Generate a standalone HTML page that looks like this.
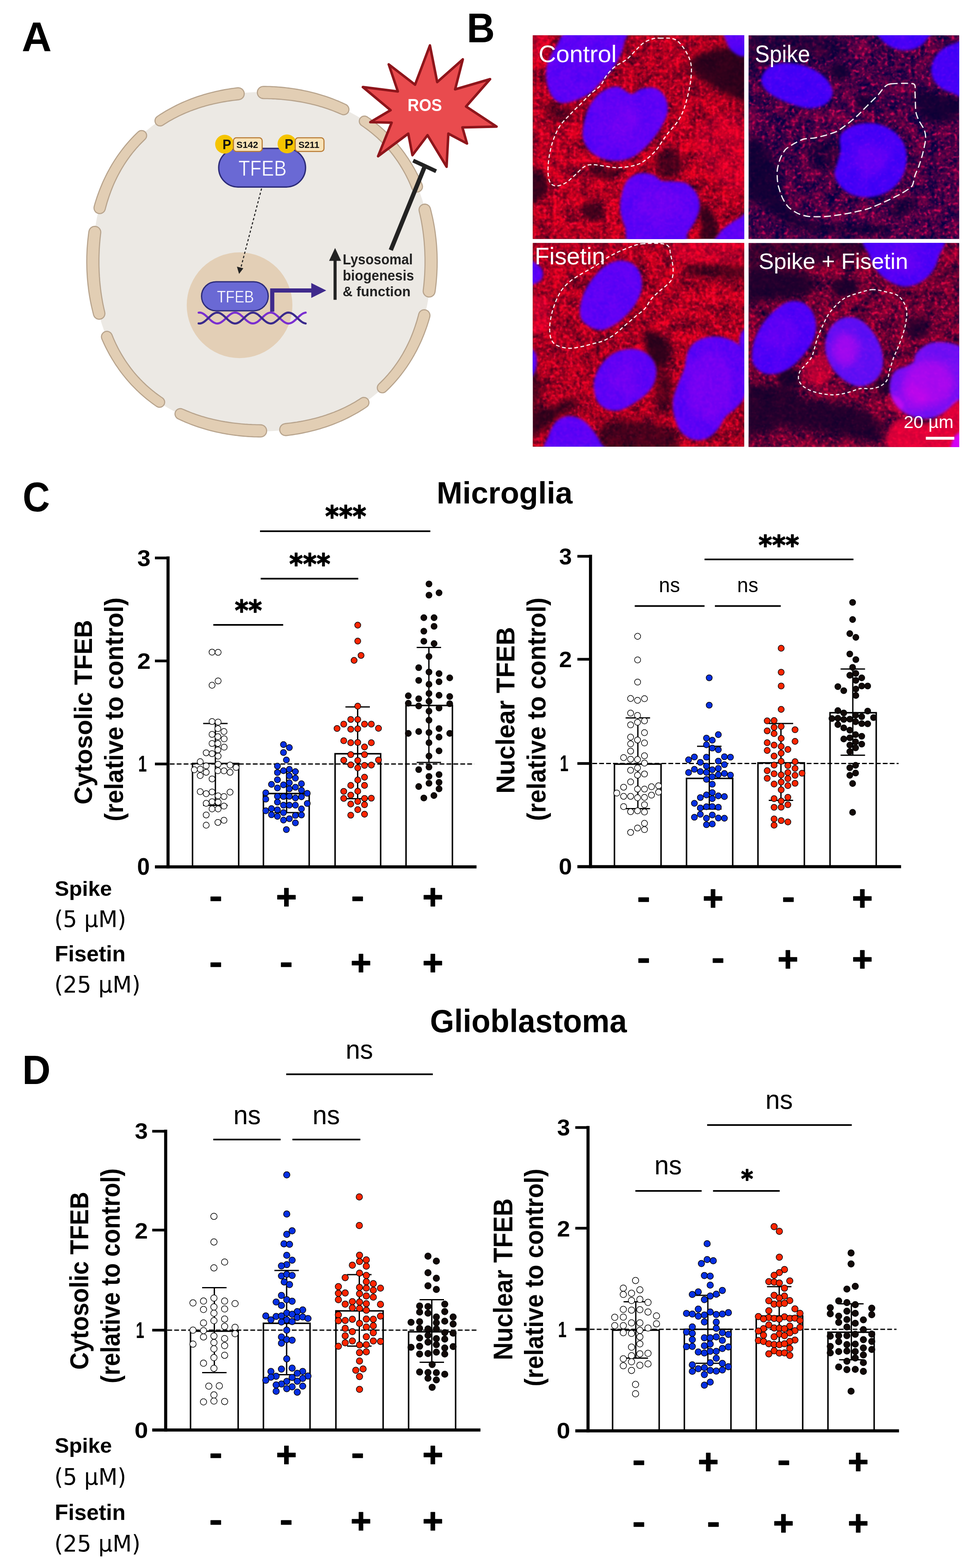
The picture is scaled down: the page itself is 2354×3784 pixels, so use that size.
<!DOCTYPE html>
<html lang="en"><head><meta charset="utf-8"><title>TFEB figure</title>
<style>
html,body{margin:0;padding:0;background:#fff;}
body{width:2354px;height:3784px;overflow:hidden;font-family:"Liberation Sans",sans-serif;}
svg{display:block;}

</style></head><body>
<svg width="2354" height="3784" viewBox="0 0 2354 3784">
<rect width="2354" height="3784" fill="#fff"/>
<g id="panelA">
<path d="M632.5,222.2L611.1,222.6L589.7,223.9L568.3,226.1L547.0,229.1L525.8,233.1L504.7,238.1L483.8,244.2L463.2,251.3L443.0,259.5L423.2,268.9L403.9,279.5L385.3,291.2L367.4,304.1L350.4,318.1L334.2,333.2L319.1,349.4L305.1,366.4L292.2,384.3L280.5,402.9L269.9,422.2L260.5,442.0L252.3,462.2L245.2,482.8L239.1,503.7L234.1,524.8L230.1,546.0L227.1,567.3L224.9,588.7L223.6,610.1L223.2,631.5L223.6,652.9L224.9,674.3L227.1,695.7L230.1,717.0L234.1,738.2L239.1,759.3L245.2,780.2L252.3,800.8L260.5,821.0L269.9,840.8L280.5,860.1L292.2,878.7L305.1,896.6L319.1,913.6L334.2,929.8L350.4,944.9L367.4,958.9L385.3,971.8L403.9,983.5L423.2,994.1L443.0,1003.5L463.2,1011.7L483.8,1018.8L504.7,1024.9L525.8,1029.9L547.0,1033.9L568.3,1036.9L589.7,1039.1L611.1,1040.4L632.5,1040.8L653.9,1040.4L675.3,1039.1L696.7,1036.9L718.0,1033.9L739.2,1029.9L760.3,1024.9L781.2,1018.8L801.8,1011.7L822.0,1003.5L841.8,994.1L861.1,983.5L879.7,971.8L897.6,958.9L914.6,944.9L930.8,929.8L945.9,913.6L959.9,896.6L972.8,878.7L984.5,860.1L995.1,840.8L1004.5,821.0L1012.7,800.8L1019.8,780.2L1025.9,759.3L1030.9,738.2L1034.9,717.0L1037.9,695.7L1040.1,674.3L1041.4,652.9L1041.8,631.5L1041.4,610.1L1040.1,588.7L1037.9,567.3L1034.9,546.0L1030.9,524.8L1025.9,503.7L1019.8,482.8L1012.7,462.2L1004.5,442.0L995.1,422.2L984.5,402.9L972.8,384.3L959.9,366.4L945.9,349.4L930.8,333.2L914.6,318.1L897.6,304.1L879.7,291.2L861.1,279.5L841.8,268.9L822.0,259.5L801.8,251.3L781.2,244.2L760.3,238.1L739.2,233.1L718.0,229.1L696.7,226.1L675.3,223.9L653.9,222.6Z" fill="#ece9e4"/>
<circle cx="578.4" cy="736.6" r="127.6" fill="#e3cfb6"/>
<path d="M573.2,211.9L568.1,212.5L563.0,213.2L557.9,213.9L552.8,214.7L547.7,215.5L542.6,216.4L537.5,217.4L532.4,218.4L527.4,219.4L522.3,220.5L517.3,221.7L512.3,222.9L507.2,224.2L502.2,225.5L497.2,226.9L492.3,228.3L487.3,229.9L482.3,231.4L477.4,233.1L472.5,234.7L467.6,236.5L462.7,238.3L457.8,240.2L453.0,242.1L448.2,244.1L443.4,246.1L438.6,248.3L433.9,250.4L429.2,252.7L424.5,255.0L419.8,257.4L415.2,259.8L410.6,262.3L406.0,264.8L401.4,267.4L396.9,270.1L392.5,272.9L388.0,275.7L383.6,278.5L379.3,281.5L376.9,283.7L375.2,286.5L374.3,289.6L374.2,292.8L375.0,296.0L376.5,298.8L378.7,301.2L381.5,302.9L384.6,303.8L387.9,303.9L391.0,303.2L393.9,301.6L398.0,298.9L402.2,296.3L406.4,293.7L410.7,291.2L415.0,288.8L419.3,286.4L423.7,284.1L428.1,281.9L432.5,279.7L436.9,277.6L441.4,275.5L445.9,273.5L450.4,271.6L455.0,269.7L459.5,267.9L464.1,266.2L468.7,264.5L473.3,262.9L477.9,261.3L482.6,259.8L487.2,258.3L491.9,256.9L496.6,255.6L501.3,254.3L506.0,253.1L510.7,251.9L515.4,250.8L520.1,249.7L524.9,248.7L529.6,247.7L534.4,246.8L539.1,245.9L543.9,245.1L548.6,244.3L553.4,243.6L558.2,242.9L562.9,242.3L567.7,241.7L572.5,241.1L577.2,240.6L580.9,239.6L584.2,237.7L586.8,235.0L588.7,231.7L589.6,228.0L589.6,224.2L588.6,220.6L586.6,217.3L583.9,214.7L580.6,212.8L577.0,211.9Z M333.5,318.4L329.7,322.0L325.9,325.7L322.2,329.5L318.5,333.3L315.0,337.2L311.4,341.1L307.9,345.1L304.5,349.2L301.1,353.2L297.8,357.4L294.6,361.5L291.4,365.7L288.3,370.0L285.2,374.3L282.2,378.6L279.3,383.0L276.4,387.4L273.6,391.9L270.8,396.4L268.2,400.9L265.5,405.5L263.0,410.1L260.5,414.7L258.0,419.4L255.7,424.1L253.4,428.8L251.1,433.6L248.9,438.3L246.8,443.1L244.8,448.0L242.8,452.8L240.8,457.7L239.0,462.6L237.2,467.5L235.4,472.4L233.7,477.4L232.1,482.3L230.5,487.3L229.0,492.3L227.6,497.3L226.9,500.9L227.2,504.5L228.4,507.9L230.4,510.9L233.1,513.2L236.3,514.8L239.9,515.5L243.5,515.2L246.9,514.0L249.9,512.0L252.2,509.3L253.8,506.0L255.0,501.3L256.3,496.6L257.6,491.9L259.0,487.2L260.5,482.5L262.0,477.8L263.6,473.1L265.2,468.5L266.9,463.9L268.6,459.3L270.4,454.7L272.3,450.1L274.2,445.6L276.2,441.0L278.3,436.5L280.4,432.1L282.6,427.6L284.9,423.2L287.2,418.8L289.6,414.5L292.0,410.1L294.5,405.9L297.1,401.6L299.7,397.4L302.4,393.2L305.2,389.1L308.0,385.0L310.9,380.9L313.8,376.9L316.9,372.9L319.9,369.0L323.1,365.1L326.3,361.3L329.5,357.5L332.9,353.8L336.2,350.2L339.7,346.5L343.2,343.0L346.7,339.5L350.3,336.0L352.3,333.5L353.6,330.6L354.1,327.5L353.8,324.3L352.6,321.3L350.7,318.8L348.3,316.8L345.3,315.5L342.2,315.0L339.0,315.3L336.0,316.5Z M214.7,558.1L214.0,563.2L213.4,568.2L212.8,573.3L212.2,578.4L211.7,583.5L211.3,588.5L210.9,593.6L210.5,598.7L210.2,603.8L210.0,608.9L209.8,614.0L209.6,619.1L209.6,624.2L209.5,629.3L209.5,634.4L209.6,639.5L209.7,644.6L209.8,649.7L210.0,654.8L210.3,659.9L210.6,665.0L210.9,670.0L211.3,675.1L211.8,680.2L212.3,685.3L212.9,690.4L213.5,695.5L214.1,700.5L214.8,705.6L215.6,710.6L216.4,715.7L217.3,720.7L218.2,725.8L219.2,730.8L220.2,735.8L221.3,740.8L222.5,745.8L223.7,750.8L224.9,755.8L226.2,760.8L227.8,764.1L230.1,766.8L233.1,768.9L236.5,770.1L240.1,770.4L243.7,769.8L246.9,768.3L249.7,765.9L251.8,763.0L253.0,759.6L253.3,755.9L252.7,752.4L251.6,747.7L250.5,743.0L249.5,738.3L248.5,733.6L247.6,728.9L246.8,724.2L246.0,719.5L245.2,714.7L244.5,710.0L243.8,705.3L243.2,700.6L242.6,695.8L242.1,691.1L241.6,686.3L241.1,681.6L240.7,676.9L240.4,672.1L240.0,667.4L239.8,662.6L239.5,657.9L239.3,653.2L239.2,648.4L239.0,643.7L238.9,638.9L238.9,634.2L238.9,629.4L238.9,624.7L239.0,620.0L239.1,615.2L239.3,610.5L239.5,605.7L239.7,601.0L240.0,596.2L240.3,591.5L240.7,586.8L241.1,582.0L241.5,577.3L242.0,572.5L242.5,567.8L243.1,563.1L243.3,559.3L242.5,555.6L240.7,552.3L238.2,549.5L235.0,547.5L231.4,546.4L227.7,546.2L224.0,547.0L220.7,548.8L217.9,551.3L215.9,554.5Z M246.2,818.5L248.3,823.3L250.5,828.1L252.7,832.9L255.0,837.6L257.4,842.3L259.8,847.0L262.3,851.7L264.8,856.3L267.5,860.9L270.1,865.4L272.9,869.9L275.7,874.4L278.5,878.9L281.5,883.3L284.5,887.6L287.5,891.9L290.6,896.2L293.8,900.5L297.1,904.7L300.4,908.8L303.7,912.9L307.1,916.9L310.6,920.9L314.1,924.9L317.7,928.8L321.4,932.6L325.1,936.4L328.8,940.2L332.7,943.9L336.5,947.5L340.4,951.1L344.4,954.6L348.4,958.0L352.5,961.4L356.6,964.8L360.8,968.0L365.0,971.3L369.2,974.4L373.5,977.5L377.8,980.5L380.7,982.1L383.8,982.9L387.1,982.8L390.2,981.9L393.0,980.2L395.2,977.8L396.8,975.0L397.5,971.8L397.5,968.6L396.5,965.5L394.8,962.7L392.5,960.5L388.4,957.7L384.3,954.8L380.2,951.9L376.2,948.9L372.3,945.8L368.4,942.7L364.5,939.5L360.7,936.3L356.9,933.0L353.2,929.7L349.6,926.2L346.0,922.8L342.4,919.2L338.9,915.7L335.5,912.0L332.1,908.3L328.8,904.6L325.5,900.8L322.3,897.0L319.2,893.1L316.1,889.1L313.1,885.1L310.2,881.1L307.3,877.0L304.5,872.9L301.7,868.7L299.0,864.5L296.4,860.3L293.8,856.0L291.3,851.7L288.9,847.4L286.5,843.0L284.2,838.6L282.0,834.2L279.8,829.7L277.7,825.2L275.7,820.7L273.7,816.2L271.8,811.6L269.9,807.0L268.0,804.1L265.5,801.9L262.4,800.3L259.0,799.6L255.6,799.8L252.3,800.9L249.5,802.8L247.2,805.3L245.6,808.4L244.9,811.8L245.1,815.2Z M429.3,1010.4L434.0,1012.6L438.8,1014.8L443.5,1016.9L448.3,1019.0L453.1,1020.9L457.9,1022.9L462.8,1024.7L467.6,1026.5L472.5,1028.3L477.4,1029.9L482.3,1031.6L487.3,1033.1L492.2,1034.6L497.2,1036.1L502.1,1037.5L507.1,1038.8L512.1,1040.1L517.1,1041.3L522.1,1042.4L527.2,1043.6L532.2,1044.6L537.3,1045.6L542.3,1046.5L547.4,1047.4L552.4,1048.3L557.5,1049.0L562.6,1049.8L567.7,1050.4L572.8,1051.0L577.9,1051.6L583.0,1052.1L588.1,1052.6L593.2,1053.0L598.3,1053.4L603.4,1053.7L608.5,1053.9L613.6,1054.2L618.7,1054.3L623.8,1054.4L629.0,1054.5L632.8,1054.0L636.3,1052.6L639.4,1050.3L641.8,1047.2L643.3,1043.7L643.8,1039.9L643.3,1036.1L641.9,1032.5L639.6,1029.5L636.5,1027.1L633.0,1025.6L629.2,1025.1L624.4,1025.0L619.7,1025.0L614.9,1024.8L610.2,1024.7L605.4,1024.4L600.6,1024.2L595.9,1023.9L591.1,1023.6L586.4,1023.2L581.6,1022.8L576.9,1022.3L572.1,1021.8L567.4,1021.3L562.6,1020.7L557.9,1020.1L553.1,1019.4L548.4,1018.6L543.6,1017.9L538.9,1017.1L534.2,1016.2L529.4,1015.3L524.7,1014.3L520.0,1013.3L515.3,1012.2L510.6,1011.1L505.9,1009.9L501.2,1008.7L496.6,1007.4L491.9,1006.1L487.2,1004.7L482.6,1003.2L478.0,1001.7L473.4,1000.2L468.8,998.5L464.2,996.9L459.6,995.1L455.1,993.3L450.6,991.5L446.1,989.5L441.6,987.6L438.4,986.4L435.1,986.0L431.7,986.6L428.6,988.0L426.0,990.1L424.0,992.9L422.8,996.0L422.5,999.4L423.1,1002.7L424.5,1005.8L426.6,1008.4Z M691.8,1051.1L696.9,1050.5L702.0,1049.8L707.1,1049.1L712.2,1048.3L717.3,1047.5L722.4,1046.6L727.5,1045.6L732.6,1044.6L737.6,1043.6L742.7,1042.5L747.7,1041.3L752.7,1040.1L757.8,1038.8L762.8,1037.5L767.8,1036.1L772.7,1034.7L777.7,1033.1L782.7,1031.6L787.6,1029.9L792.5,1028.3L797.4,1026.5L802.3,1024.7L807.2,1022.8L812.0,1020.9L816.8,1018.9L821.6,1016.9L826.4,1014.7L831.1,1012.6L835.8,1010.3L840.5,1008.0L845.2,1005.6L849.8,1003.2L854.4,1000.7L859.0,998.2L863.6,995.6L868.1,992.9L872.5,990.1L877.0,987.3L881.4,984.5L885.7,981.5L888.1,979.3L889.8,976.5L890.7,973.4L890.8,970.2L890.0,967.0L888.5,964.2L886.3,961.8L883.5,960.1L880.4,959.2L877.1,959.1L874.0,959.8L871.1,961.4L867.0,964.1L862.8,966.7L858.6,969.3L854.3,971.8L850.0,974.2L845.7,976.6L841.3,978.9L836.9,981.1L832.5,983.3L828.1,985.4L823.6,987.5L819.1,989.5L814.6,991.4L810.0,993.3L805.5,995.1L800.9,996.8L796.3,998.5L791.7,1000.1L787.1,1001.7L782.4,1003.2L777.8,1004.7L773.1,1006.1L768.4,1007.4L763.7,1008.7L759.0,1009.9L754.3,1011.1L749.6,1012.2L744.9,1013.3L740.1,1014.3L735.4,1015.3L730.6,1016.2L725.9,1017.1L721.1,1017.9L716.4,1018.7L711.6,1019.4L706.8,1020.1L702.1,1020.7L697.3,1021.3L692.5,1021.9L687.8,1022.4L684.1,1023.4L680.8,1025.3L678.2,1028.0L676.3,1031.3L675.4,1035.0L675.4,1038.8L676.4,1042.4L678.4,1045.7L681.1,1048.3L684.4,1050.2L688.0,1051.1Z M931.5,944.6L935.3,941.0L939.1,937.3L942.8,933.5L946.5,929.7L950.0,925.8L953.6,921.9L957.1,917.9L960.5,913.8L963.9,909.8L967.2,905.6L970.4,901.5L973.6,897.3L976.7,893.0L979.8,888.7L982.8,884.4L985.7,880.0L988.6,875.6L991.4,871.1L994.2,866.6L996.8,862.1L999.5,857.5L1002.0,852.9L1004.5,848.3L1007.0,843.6L1009.3,838.9L1011.6,834.2L1013.9,829.4L1016.1,824.7L1018.2,819.9L1020.2,815.0L1022.2,810.2L1024.2,805.3L1026.0,800.4L1027.8,795.5L1029.6,790.6L1031.3,785.6L1032.9,780.7L1034.5,775.7L1036.0,770.7L1037.4,765.7L1038.1,762.1L1037.8,758.5L1036.6,755.1L1034.6,752.1L1031.9,749.8L1028.7,748.2L1025.1,747.5L1021.5,747.8L1018.1,749.0L1015.1,751.0L1012.8,753.7L1011.2,757.0L1010.0,761.7L1008.7,766.4L1007.4,771.1L1006.0,775.8L1004.5,780.5L1003.0,785.2L1001.4,789.9L999.8,794.5L998.1,799.1L996.4,803.7L994.6,808.3L992.7,812.9L990.8,817.4L988.8,822.0L986.7,826.5L984.6,830.9L982.4,835.4L980.1,839.8L977.8,844.2L975.4,848.5L973.0,852.9L970.5,857.1L967.9,861.4L965.3,865.6L962.6,869.8L959.8,873.9L957.0,878.0L954.1,882.1L951.2,886.1L948.1,890.1L945.1,894.0L941.9,897.9L938.7,901.7L935.5,905.5L932.1,909.2L928.8,912.8L925.3,916.5L921.8,920.0L918.3,923.5L914.7,927.0L912.7,929.5L911.4,932.4L910.9,935.5L911.2,938.7L912.4,941.7L914.3,944.2L916.7,946.2L919.7,947.5L922.8,948.0L926.0,947.7L929.0,946.5Z M1050.3,704.9L1051.0,699.8L1051.6,694.8L1052.2,689.7L1052.8,684.6L1053.3,679.5L1053.7,674.5L1054.1,669.4L1054.5,664.3L1054.8,659.2L1055.0,654.1L1055.2,649.0L1055.4,643.9L1055.4,638.8L1055.5,633.7L1055.5,628.6L1055.4,623.5L1055.3,618.4L1055.2,613.3L1055.0,608.2L1054.7,603.1L1054.4,598.0L1054.1,593.0L1053.7,587.9L1053.2,582.8L1052.7,577.7L1052.1,572.6L1051.5,567.5L1050.9,562.5L1050.2,557.4L1049.4,552.4L1048.6,547.3L1047.7,542.3L1046.8,537.2L1045.8,532.2L1044.8,527.2L1043.7,522.2L1042.5,517.2L1041.3,512.2L1040.1,507.2L1038.8,502.2L1037.2,498.9L1034.9,496.2L1031.9,494.1L1028.5,492.9L1024.9,492.6L1021.3,493.2L1018.1,494.7L1015.3,497.1L1013.2,500.0L1012.0,503.4L1011.7,507.1L1012.3,510.6L1013.4,515.3L1014.5,520.0L1015.5,524.7L1016.5,529.4L1017.4,534.1L1018.2,538.8L1019.0,543.5L1019.8,548.3L1020.5,553.0L1021.2,557.7L1021.8,562.4L1022.4,567.2L1022.9,571.9L1023.4,576.7L1023.9,581.4L1024.3,586.1L1024.6,590.9L1025.0,595.6L1025.2,600.4L1025.5,605.1L1025.7,609.8L1025.8,614.6L1026.0,619.3L1026.1,624.1L1026.1,628.8L1026.1,633.6L1026.1,638.3L1026.0,643.0L1025.9,647.8L1025.7,652.5L1025.5,657.3L1025.3,662.0L1025.0,666.8L1024.7,671.5L1024.3,676.2L1023.9,681.0L1023.5,685.7L1023.0,690.5L1022.5,695.2L1021.9,699.9L1021.7,703.7L1022.5,707.4L1024.3,710.7L1026.8,713.5L1030.0,715.5L1033.6,716.6L1037.3,716.8L1041.0,716.0L1044.3,714.2L1047.1,711.7L1049.1,708.5Z M1018.8,444.5L1016.7,439.7L1014.5,434.9L1012.3,430.1L1010.0,425.4L1007.6,420.7L1005.2,416.0L1002.7,411.3L1000.2,406.7L997.5,402.1L994.9,397.6L992.1,393.1L989.3,388.6L986.5,384.1L983.5,379.7L980.5,375.4L977.5,371.1L974.4,366.8L971.2,362.5L967.9,358.3L964.6,354.2L961.3,350.1L957.9,346.1L954.4,342.1L950.9,338.1L947.3,334.2L943.6,330.4L939.9,326.6L936.2,322.8L932.3,319.1L928.5,315.5L924.6,311.9L920.6,308.4L916.6,305.0L912.5,301.6L908.4,298.2L904.2,295.0L900.0,291.7L895.8,288.6L891.5,285.5L887.2,282.5L884.3,280.9L881.2,280.1L877.9,280.2L874.8,281.1L872.0,282.8L869.8,285.2L868.2,288.0L867.5,291.2L867.5,294.4L868.5,297.5L870.2,300.3L872.5,302.5L876.6,305.3L880.7,308.2L884.8,311.1L888.8,314.1L892.7,317.2L896.6,320.3L900.5,323.5L904.3,326.7L908.1,330.0L911.8,333.3L915.4,336.8L919.0,340.2L922.6,343.8L926.1,347.3L929.5,351.0L932.9,354.7L936.2,358.4L939.5,362.2L942.7,366.0L945.8,369.9L948.9,373.9L951.9,377.9L954.8,381.9L957.7,386.0L960.5,390.1L963.3,394.3L966.0,398.5L968.6,402.7L971.2,407.0L973.7,411.3L976.1,415.6L978.5,420.0L980.8,424.4L983.0,428.8L985.2,433.3L987.3,437.8L989.3,442.3L991.3,446.8L993.2,451.4L995.1,456.0L997.0,458.9L999.5,461.1L1002.6,462.7L1006.0,463.4L1009.4,463.2L1012.7,462.1L1015.5,460.2L1017.8,457.7L1019.4,454.6L1020.1,451.2L1019.9,447.8Z M835.7,252.6L831.0,250.4L826.2,248.2L821.5,246.1L816.7,244.0L811.9,242.1L807.1,240.1L802.2,238.3L797.4,236.5L792.5,234.7L787.6,233.1L782.7,231.4L777.7,229.9L772.8,228.4L767.8,226.9L762.9,225.5L757.9,224.2L752.9,222.9L747.9,221.7L742.9,220.6L737.8,219.4L732.8,218.4L727.7,217.4L722.7,216.5L717.6,215.6L712.6,214.7L707.5,214.0L702.4,213.2L697.3,212.6L692.2,212.0L687.1,211.4L682.0,210.9L676.9,210.4L671.8,210.0L666.7,209.6L661.6,209.3L656.5,209.1L651.4,208.8L646.3,208.7L641.2,208.6L636.0,208.5L632.2,209.0L628.7,210.4L625.6,212.7L623.2,215.8L621.7,219.3L621.2,223.1L621.7,226.9L623.1,230.5L625.4,233.5L628.5,235.9L632.0,237.4L635.8,237.9L640.6,238.0L645.3,238.0L650.1,238.2L654.8,238.3L659.6,238.6L664.4,238.8L669.1,239.1L673.9,239.4L678.6,239.8L683.4,240.2L688.1,240.7L692.9,241.2L697.6,241.7L702.4,242.3L707.1,242.9L711.9,243.6L716.6,244.4L721.4,245.1L726.1,245.9L730.8,246.8L735.6,247.7L740.3,248.7L745.0,249.7L749.7,250.8L754.4,251.9L759.1,253.1L763.8,254.3L768.4,255.6L773.1,256.9L777.8,258.3L782.4,259.8L787.0,261.3L791.6,262.8L796.2,264.5L800.8,266.1L805.4,267.9L809.9,269.7L814.4,271.5L818.9,273.5L823.4,275.4L826.6,276.6L829.9,277.0L833.3,276.4L836.4,275.0L839.0,272.9L841.0,270.1L842.2,267.0L842.5,263.6L841.9,260.3L840.5,257.2L838.4,254.6Z" fill="#e2ceb4" stroke="#b7a38c" stroke-width="2.6" stroke-linejoin="round"/>
<line x1="943.5" y1="603.5" x2="1026" y2="400.4" stroke="#222" stroke-width="10.5"/>
<line x1="997.5" y1="387.5" x2="1053" y2="413.3" stroke="#222" stroke-width="9.5"/>
<polygon points="1038.0,109.6 1055.6,198.1 1117.4,143.3 1098.8,215.7 1183.3,191.0 1125.2,257.1 1198.8,305.6 1116.4,307.4 1127.5,346.3 1082.5,322.5 1078.2,402.4 1032.2,326.2 995.8,374.5 985.7,322.5 912.8,377.0 945.5,296.1 894.0,294.8 943.0,265.9 876.1,210.1 960.6,220.7 938.5,155.3 1002.1,204.4" fill="#e94b4e" stroke="#8e151b" stroke-width="6" stroke-linejoin="round"/>
<text transform="translate(984.01,268.17) scale(0.8976,1)" font-family="'Liberation Sans', sans-serif" font-weight="bold" font-size="42.68" fill="#fff" xml:space="preserve" >ROS</text>
<rect x="528" y="358.2" width="209.7" height="93.1" rx="46.5" fill="#6a69d4" stroke="#2b2a78" stroke-width="3.2"/>
<text transform="translate(575.69,424.40) scale(0.8754,1)" font-family="'Liberation Sans', sans-serif" font-weight="normal" font-size="51.94" fill="#fff" xml:space="preserve" stroke="#6a69d4" stroke-width="0.7">TFEB</text>
<line x1="631.5" y1="455" x2="581" y2="648" stroke="#222" stroke-width="2.6" stroke-dasharray="5.5 5"/>
<polygon points="577.2,661 572,643.5 587.5,647.5" fill="#222"/>
<circle cx="542.3" cy="348" r="22.8" fill="#f5c400"/>
<rect x="563.6" y="332.5" width="69.4" height="33" rx="7" fill="#f8e3b8" stroke="#b87a32" stroke-width="2.6"/>
<circle cx="693" cy="347.3" r="22.8" fill="#f5c400"/>
<rect x="712.8000000000001" y="332.5" width="69.4" height="33" rx="7" fill="#f8e3b8" stroke="#b87a32" stroke-width="2.6"/>
<text transform="translate(537.16,359.70) scale(0.9209,1)" font-family="'Liberation Sans', sans-serif" font-weight="bold" font-size="34.10" fill="#111" xml:space="preserve" >P</text>
<text transform="translate(687.35,359.20) scale(0.9260,1)" font-family="'Liberation Sans', sans-serif" font-weight="bold" font-size="34.10" fill="#111" xml:space="preserve" >P</text>
<text transform="translate(570.83,356.68) scale(1.0208,1)" font-family="'Liberation Sans', sans-serif" font-weight="bold" font-size="21.97" fill="#111" xml:space="preserve" >S142</text>
<text transform="translate(720.54,356.68) scale(1.0084,1)" font-family="'Liberation Sans', sans-serif" font-weight="bold" font-size="21.97" fill="#111" xml:space="preserve" >S211</text>
<path d="M479.5,754.4 L482.7,754.3 L486.0,755.0 L489.2,756.3 L492.4,758.2 L495.7,760.7 L498.9,763.5 L502.1,766.6 L505.4,769.7 L508.6,772.7 L511.8,775.4 L515.0,777.6 L518.3,779.3 L521.5,780.4 L524.7,780.7 L528.0,780.3 L531.2,779.2 L534.4,777.4 L537.7,775.1 L540.9,772.4 L544.1,769.4 L547.4,766.2 L550.6,763.2 L553.8,760.4 L557.0,758.0 L560.3,756.1 L563.5,754.9 L566.7,754.3 L570.0,754.5 L573.2,755.4 L576.4,757.0 L579.7,759.1 L582.9,761.8 L586.1,764.7 L589.4,767.8 L592.6,770.9 L595.8,773.8 L599.1,776.3 L602.3,778.4 L605.5,779.8 L608.8,780.6 L612.0,780.6 L615.2,779.9 L618.4,778.6 L621.7,776.6 L624.9,774.1 L628.1,771.2 L631.4,768.2 L634.6,765.1 L637.8,762.1 L641.1,759.4 L644.3,757.2 L647.5,755.6 L650.8,754.6 L654.0,754.3 L657.2,754.8 L660.5,755.9 L663.7,757.8 L666.9,760.1 L670.1,762.9 L673.4,765.9 L676.6,769.0 L679.8,772.0 L683.1,774.8 L686.3,777.2 L689.5,779.0 L692.8,780.2 L696.0,780.7 L699.2,780.4 L702.5,779.5 L705.7,777.9 L708.9,775.7 L712.1,773.0 L715.4,770.1 L718.6,767.0 L721.8,763.9 L725.1,761.0 L728.3,758.5 L731.5,756.5 L734.8,755.1 L738.0,754.4" fill="none" stroke="#7a2fd0" stroke-width="5" stroke-linecap="round"/>
<path d="M479.5,780.6 L482.7,780.7 L486.0,780.0 L489.2,778.7 L492.4,776.8 L495.7,774.3 L498.9,771.5 L502.1,768.4 L505.4,765.3 L508.6,762.3 L511.8,759.6 L515.0,757.4 L518.3,755.7 L521.5,754.6 L524.7,754.3 L528.0,754.7 L531.2,755.8 L534.4,757.6 L537.7,759.9 L540.9,762.6 L544.1,765.6 L547.4,768.8 L550.6,771.8 L553.8,774.6 L557.0,777.0 L560.3,778.9 L563.5,780.1 L566.7,780.7 L570.0,780.5 L573.2,779.6 L576.4,778.0 L579.7,775.9 L582.9,773.2 L586.1,770.3 L589.4,767.2 L592.6,764.1 L595.8,761.2 L599.1,758.7 L602.3,756.6 L605.5,755.2 L608.8,754.4 L612.0,754.4 L615.2,755.1 L618.4,756.4 L621.7,758.4 L624.9,760.9 L628.1,763.8 L631.4,766.8 L634.6,769.9 L637.8,772.9 L641.1,775.6 L644.3,777.8 L647.5,779.4 L650.8,780.4 L654.0,780.7 L657.2,780.2 L660.5,779.1 L663.7,777.2 L666.9,774.9 L670.1,772.1 L673.4,769.1 L676.6,766.0 L679.8,763.0 L683.1,760.2 L686.3,757.8 L689.5,756.0 L692.8,754.8 L696.0,754.3 L699.2,754.6 L702.5,755.5 L705.7,757.1 L708.9,759.3 L712.1,762.0 L715.4,764.9 L718.6,768.0 L721.8,771.1 L725.1,774.0 L728.3,776.5 L731.5,778.5 L734.8,779.9 L738.0,780.6" fill="none" stroke="#3a2a8c" stroke-width="5" stroke-linecap="round"/>
<rect x="486.6" y="679.9" width="161" height="70" rx="35" fill="#6a69d4" stroke="#2b2a78" stroke-width="3"/>
<text transform="translate(523.70,730.20) scale(0.8547,1)" font-family="'Liberation Sans', sans-serif" font-weight="normal" font-size="41.01" fill="#fff" xml:space="preserve" stroke="#6a69d4" stroke-width="0.6">TFEB</text>
<path d="M657.3,752 V701 H754" fill="none" stroke="#3f2a8c" stroke-width="10"/>
<polygon points="751.5,683 787.7,701 751.5,719" fill="#3f2a8c"/>
<line x1="809" y1="723.5" x2="809" y2="628" stroke="#222" stroke-width="7.4"/>
<polygon points="809,598.5 823.5,629.5 794.5,629.5" fill="#222"/>
<text transform="translate(827.48,638.41) scale(0.9526,1)" font-family="'Liberation Sans', sans-serif" font-weight="bold" font-size="34.22" fill="#222" xml:space="preserve" >Lysosomal</text>
<text transform="translate(827.46,677.10) scale(0.9454,1)" font-family="'Liberation Sans', sans-serif" font-weight="bold" font-size="34.89" fill="#222" xml:space="preserve" >biogenesis</text>
<text transform="translate(827.37,715.46) scale(0.9719,1)" font-family="'Liberation Sans', sans-serif" font-weight="bold" font-size="34.15" fill="#222" xml:space="preserve" >&amp; function</text>
</g>
<defs>
<filter id="nblur" x="-20%" y="-20%" width="140%" height="140%"><feGaussianBlur stdDeviation="3.4"/></filter>
<filter id="bl3" x="-50%" y="-50%" width="200%" height="200%"><feGaussianBlur stdDeviation="3"/></filter>
<filter id="bl4" x="-50%" y="-50%" width="200%" height="200%"><feGaussianBlur stdDeviation="4"/></filter>
<filter id="bl5" x="-50%" y="-50%" width="200%" height="200%"><feGaussianBlur stdDeviation="5"/></filter>
<filter id="bl6" x="-50%" y="-50%" width="200%" height="200%"><feGaussianBlur stdDeviation="6"/></filter>
<filter id="bl8" x="-50%" y="-50%" width="200%" height="200%"><feGaussianBlur stdDeviation="8"/></filter>
<filter id="bl9" x="-50%" y="-50%" width="200%" height="200%"><feGaussianBlur stdDeviation="9"/></filter>
<filter id="bl10" x="-50%" y="-50%" width="200%" height="200%"><feGaussianBlur stdDeviation="10"/></filter>
<filter id="sp-p1" x="0" y="0" width="100%" height="100%" color-interpolation-filters="sRGB">
<feTurbulence type="fractalNoise" baseFrequency="0.125" numOctaves="2" seed="3" result="n"/>
<feColorMatrix in="n" type="matrix" values="5.0 0 0 0 -2.875  0 1 0 0 0  0 0 0 0 0  0 0 0 0 1" result="a"/>
<feTurbulence type="fractalNoise" baseFrequency="0.03" numOctaves="2" seed="10" result="m"/>
<feColorMatrix in="m" type="matrix" values="0 0 0 0 0  0 0 0 0 0  0 0 1 0 0  0 0 0 0 1" result="b"/>
<feComposite in="a" in2="b" operator="arithmetic" k1="0" k2="1" k3="1" k4="0" result="c"/>
<feColorMatrix in="c" type="matrix" values="0.5 0.9 0.8 0 -0.190  0.03 0 0 0 0  0.10 0.05 0 0 0.1  0 0 0 0 1" result="g"/>
<feGaussianBlur in="g" stdDeviation="1.1"/>
</filter>
<clipPath id="cl-p1"><rect x="1286.5" y="85.4" width="510.1" height="491.0"/></clipPath>
<mask id="mk-p1" maskUnits="userSpaceOnUse" x="1281.5" y="80.4" width="520.1" height="501.0"><rect x="1281.5" y="80.4" width="520.1" height="501.0" fill="#000"/><rect x="1281.5" y="80.4" width="520.1" height="501.0" fill="#fff" fill-opacity="0.96"/><path d="M1656.1,290.6C1680.0,267.3 1775.6,227.5 1799.5,261.2C1823.4,294.9 1814.2,457.3 1799.5,492.9C1784.8,528.4 1735.2,489.8 1711.3,474.5C1687.4,459.2 1665.3,431.6 1656.1,401.0C1646.9,370.3 1632.2,313.9 1656.1,290.6Z" fill="#fff" fill-opacity="0.35" filter="url(#bl9)"/><path d="M1284.7,474.5C1312.9,453.7 1418.3,446.9 1453.9,456.1C1489.4,465.3 1498.0,508.8 1498.0,529.7C1498.0,550.5 1489.4,572.6 1453.9,581.1C1418.3,589.7 1312.9,598.9 1284.7,581.1C1256.5,563.4 1256.5,495.3 1284.7,474.5Z" fill="#fff" fill-opacity="0.25" filter="url(#bl9)"/><path d="M1284.7,81.0C1292.1,69.4 1323.9,73.1 1328.8,81.0C1333.7,89.0 1321.5,117.2 1314.1,128.8C1306.8,140.5 1289.6,158.9 1284.7,150.9C1279.8,142.9 1277.4,92.7 1284.7,81.0Z" fill="#fff" fill-opacity="0.3" filter="url(#bl4)"/><path d="M1667.1,143.5C1673.9,135.0 1696.0,126.4 1711.3,121.5C1726.6,116.6 1743.1,114.7 1759.1,114.1C1775.0,113.5 1798.9,96.4 1806.9,117.8C1814.9,139.3 1813.0,223.2 1806.9,242.8C1800.8,262.4 1782.4,239.8 1770.1,235.5C1757.9,231.2 1745.6,223.8 1733.3,217.1C1721.1,210.3 1707.0,202.4 1696.6,195.0C1686.1,187.7 1675.7,181.5 1670.8,173.0C1665.9,164.4 1660.4,152.1 1667.1,143.5Z" fill="#000" fill-opacity="0.85" filter="url(#bl8)"/><path d="M1586.2,371.5C1593.0,364.2 1612.6,354.4 1623.0,356.8C1633.4,359.3 1646.3,375.2 1648.8,386.2C1651.2,397.3 1645.7,415.7 1637.7,423.0C1629.8,430.4 1610.1,434.1 1601.0,430.4C1591.8,426.7 1585.0,410.8 1582.6,401.0C1580.1,391.1 1579.5,378.9 1586.2,371.5Z" fill="#000" fill-opacity="0.64" filter="url(#bl8)"/><path d="M1277.4,412.0C1282.9,401.6 1303.1,412.6 1310.5,419.3C1317.8,426.1 1322.1,442.6 1321.5,452.4C1320.9,462.2 1314.1,473.3 1306.8,478.2C1299.4,483.1 1282.3,492.9 1277.4,481.9C1272.5,470.8 1271.8,422.4 1277.4,412.0Z" fill="#000" fill-opacity="0.81" filter="url(#bl6)"/><path d="M1409.7,492.9C1414.6,486.8 1434.9,486.1 1442.8,489.2C1450.8,492.3 1457.5,503.9 1457.5,511.3C1457.5,518.6 1450.2,530.9 1442.8,533.3C1435.5,535.8 1418.9,532.7 1413.4,526.0C1407.9,519.2 1404.8,499.0 1409.7,492.9Z" fill="#000" fill-opacity="0.72" filter="url(#bl6)"/><path d="M1681.9,492.9C1686.1,488.0 1710.0,502.1 1718.6,511.3C1727.2,520.5 1732.1,535.8 1733.3,548.0C1734.6,560.3 1733.3,578.7 1726.0,584.8C1718.6,590.9 1694.7,592.2 1689.2,584.8C1683.7,577.5 1694.1,556.0 1692.9,540.7C1691.7,525.4 1677.6,497.8 1681.9,492.9Z" fill="#000" fill-opacity="0.77" filter="url(#bl6)"/><path d="M1321.5,246.5C1329.4,244.1 1354.0,260.0 1365.6,261.2C1377.3,262.4 1388.9,251.4 1391.4,253.9C1393.8,256.3 1388.3,269.8 1380.3,275.9C1372.4,282.1 1354.0,290.6 1343.5,290.6C1333.1,290.6 1321.5,283.3 1317.8,275.9C1314.1,268.6 1313.5,249.0 1321.5,246.5Z" fill="#000" fill-opacity="0.55" filter="url(#bl8)"/><path d="M1424.4,393.6C1431.8,391.1 1462.4,405.2 1475.9,408.3C1489.4,411.4 1505.3,408.3 1505.3,412.0C1505.3,415.7 1488.2,428.5 1475.9,430.4C1463.7,432.2 1440.4,429.1 1431.8,423.0C1423.2,416.9 1417.1,396.1 1424.4,393.6Z" fill="#000" fill-opacity="0.59" filter="url(#bl6)"/><path d="M1380.3,70.0C1353.4,76.7 1353.4,96.4 1343.5,110.5C1333.7,124.5 1325.5,140.5 1321.5,154.6C1317.5,168.7 1317.8,182.2 1319.6,195.0C1321.5,207.9 1326.7,222.9 1332.5,231.8C1338.3,240.7 1345.4,246.5 1354.6,248.3C1363.8,250.2 1376.0,246.8 1387.7,242.8C1399.3,238.8 1413.4,232.4 1424.4,224.4C1435.5,216.5 1444.7,204.8 1453.9,195.0C1463.1,185.2 1472.3,176.0 1479.6,165.6C1487.0,155.2 1493.4,142.9 1498.0,132.5C1502.6,122.1 1506.0,113.5 1507.2,103.1C1508.4,92.7 1526.5,75.5 1505.3,70.0C1484.2,64.5 1407.3,63.3 1380.3,70.0Z" fill="#000" fill-opacity="0.80" filter="url(#nblur)"/><path d="M1409.7,298.0C1412.5,284.5 1417.1,266.7 1424.4,253.9C1431.8,241.0 1442.8,228.2 1453.9,220.8C1464.9,213.3 1479.0,208.1 1490.6,209.0C1502.3,209.9 1513.9,225.4 1523.7,226.3C1533.5,227.1 1539.7,216.4 1549.5,214.1C1559.3,211.9 1573.1,209.1 1582.6,212.7C1592.1,216.2 1601.6,226.2 1606.5,235.5C1611.4,244.8 1612.9,258.2 1612.0,268.6C1611.1,279.0 1605.9,288.2 1601.0,298.0C1596.1,307.8 1589.9,317.6 1582.6,327.4C1575.2,337.2 1566.0,348.2 1556.8,356.8C1547.6,365.4 1538.4,373.7 1527.4,378.9C1516.4,384.1 1502.9,387.5 1490.6,388.1C1478.4,388.7 1464.9,386.6 1453.9,382.6C1442.8,378.6 1432.1,372.1 1424.4,364.2C1416.8,356.2 1410.3,345.8 1407.9,334.8C1405.4,323.7 1407.0,311.5 1409.7,298.0Z" fill="#000" fill-opacity="0.80" filter="url(#nblur)"/><path d="M1499.8,474.5C1502.3,462.2 1505.7,447.0 1512.7,437.7C1519.7,428.4 1531.7,421.4 1542.1,418.6C1552.5,415.8 1566.0,418.3 1575.2,421.2C1584.4,424.1 1589.3,433.1 1597.3,435.9C1605.2,438.6 1613.2,436.7 1623.0,437.7C1632.8,438.8 1646.3,437.2 1656.1,442.1C1665.9,447.0 1676.3,457.5 1681.9,467.1C1687.4,476.8 1689.8,489.2 1689.2,500.2C1688.6,511.3 1683.1,522.9 1678.2,533.3C1673.3,543.8 1665.3,552.9 1659.8,562.8C1654.3,572.6 1667.1,587.3 1645.1,592.2C1623.0,597.1 1550.1,599.5 1527.4,592.2C1504.7,584.8 1513.9,561.5 1509.0,548.0C1504.1,534.6 1499.5,523.5 1498.0,511.3C1496.5,499.0 1497.4,486.8 1499.8,474.5Z" fill="#000" fill-opacity="0.80" filter="url(#nblur)"/><path d="M1751.7,70.0C1740.6,75.5 1751.6,93.9 1754.7,103.1C1757.7,112.3 1763.1,119.8 1770.1,125.2C1777.1,130.6 1788.0,138.5 1796.6,135.5C1805.2,132.4 1817.4,117.7 1821.6,106.8C1825.8,95.9 1833.2,76.1 1821.6,70.0C1809.9,63.9 1762.9,64.5 1751.7,70.0Z" fill="#000" fill-opacity="0.80" filter="url(#nblur)"/><path d="M1810.6,516.8C1804.4,505.8 1793.4,521.7 1784.8,526.0C1776.2,530.3 1767.0,536.4 1759.1,542.5C1751.1,548.7 1742.2,554.5 1737.0,562.8C1731.8,571.0 1713.7,587.3 1727.8,592.2C1741.9,597.1 1807.8,604.7 1821.6,592.2C1835.4,579.6 1816.7,527.8 1810.6,516.8Z" fill="#000" fill-opacity="0.80" filter="url(#nblur)"/></mask>
<filter id="sp-p2" x="0" y="0" width="100%" height="100%" color-interpolation-filters="sRGB">
<feTurbulence type="fractalNoise" baseFrequency="0.125" numOctaves="2" seed="11" result="n"/>
<feColorMatrix in="n" type="matrix" values="5.0 0 0 0 -2.925  0 1 0 0 0  0 0 0 0 0  0 0 0 0 1" result="a"/>
<feTurbulence type="fractalNoise" baseFrequency="0.03" numOctaves="2" seed="18" result="m"/>
<feColorMatrix in="m" type="matrix" values="0 0 0 0 0  0 0 0 0 0  0 0 1 0 0  0 0 0 0 1" result="b"/>
<feComposite in="a" in2="b" operator="arithmetic" k1="0" k2="1" k3="1" k4="0" result="c"/>
<feColorMatrix in="c" type="matrix" values="0.8 0.9 0.8 0 -0.550  0.03 0 0 0 0  0.10 0.05 0 0 0.26  0 0 0 0 1" result="g"/>
<feGaussianBlur in="g" stdDeviation="1.1"/>
</filter>
<clipPath id="cl-p2"><rect x="1807.5" y="85.4" width="508.1" height="491.0"/></clipPath>
<mask id="mk-p2" maskUnits="userSpaceOnUse" x="1802.5" y="80.4" width="518.1" height="501.0"><rect x="1802.5" y="80.4" width="518.1" height="501.0" fill="#000"/><rect x="1802.5" y="80.4" width="518.1" height="501.0" fill="#fff" fill-opacity="0.8"/><path d="M1955.5,246.5C1970.8,234.9 2028.4,230.6 2047.4,235.5C2066.4,240.4 2075.6,261.8 2069.5,275.9C2063.3,290.0 2029.6,315.2 2010.6,320.1C1991.6,325.0 1964.7,317.6 1955.5,305.3C1946.3,293.1 1940.2,258.2 1955.5,246.5Z" fill="#fff" fill-opacity="0.25" filter="url(#bl8)"/><path d="M2047.4,492.9C2098.9,469.0 2274.2,423.0 2319.5,437.7C2364.9,452.4 2371.0,557.2 2319.5,581.1C2268.0,605.0 2056.0,595.9 2010.6,581.1C1965.3,566.4 1995.9,516.8 2047.4,492.9Z" fill="#fff" fill-opacity="0.15" filter="url(#bl9)"/><path d="M1797.4,334.8C1805.3,313.9 1832.3,338.4 1845.2,349.5C1858.0,360.5 1867.8,383.2 1874.6,401.0C1881.3,418.7 1879.5,439.0 1885.6,456.1C1891.7,473.3 1899.7,491.0 1911.4,503.9C1923.0,516.8 1932.8,526.6 1955.5,533.3C1978.2,540.1 2016.8,542.5 2047.4,544.4C2078.1,546.2 2124.0,541.3 2139.3,544.4C2154.7,547.4 2154.7,559.7 2139.3,562.8C2124.0,565.8 2081.1,564.0 2047.4,562.8C2013.7,561.5 1964.7,560.9 1937.1,555.4C1909.5,549.9 1899.1,540.1 1881.9,529.7C1864.8,519.2 1848.2,502.1 1834.1,492.9C1820.0,483.7 1803.5,500.9 1797.4,474.5C1791.2,448.1 1789.4,355.6 1797.4,334.8Z" fill="#000" fill-opacity="0.85" filter="url(#bl10)"/><path d="M2212.9,217.1C2222.1,211.6 2250.3,223.8 2268.0,228.1C2285.8,232.4 2310.9,234.9 2319.5,242.8C2328.1,250.8 2326.3,266.7 2319.5,275.9C2312.8,285.1 2293.8,295.5 2279.1,298.0C2264.4,300.4 2242.3,296.8 2231.3,290.6C2220.2,284.5 2216.0,273.5 2212.9,261.2C2209.8,249.0 2203.7,222.6 2212.9,217.1Z" fill="#000" fill-opacity="0.85" filter="url(#bl8)"/><path d="M2007.0,158.3C2011.9,152.7 2032.7,150.9 2040.1,154.6C2047.4,158.3 2052.3,173.6 2051.1,180.3C2049.9,187.1 2039.4,193.8 2032.7,195.0C2026.0,196.3 2014.9,193.8 2010.6,187.7C2006.3,181.5 2002.1,163.8 2007.0,158.3Z" fill="#000" fill-opacity="0.85" filter="url(#bl6)"/><path d="M2069.5,235.5C2074.4,231.2 2092.8,228.7 2098.9,231.8C2105.0,234.9 2108.1,248.3 2106.2,253.9C2104.4,259.4 2094.0,264.3 2087.9,264.9C2081.7,265.5 2072.5,262.4 2069.5,257.5C2066.4,252.6 2064.6,239.8 2069.5,235.5Z" fill="#000" fill-opacity="0.81" filter="url(#bl6)"/><path d="M1797.4,81.0C1826.8,64.5 1932.2,75.5 1973.9,81.0C2015.5,86.5 2041.3,103.7 2047.4,114.1C2053.5,124.5 2035.2,139.9 2010.6,143.5C1986.1,147.2 1931.0,133.1 1900.3,136.2C1869.7,139.3 1843.9,154.6 1826.8,161.9C1809.6,169.3 1802.3,193.8 1797.4,180.3C1792.5,166.8 1767.9,97.6 1797.4,81.0Z" fill="#000" fill-opacity="0.55" filter="url(#bl10)"/><path d="M1955.5,349.5C1966.5,342.1 2007.6,333.5 2018.0,342.1C2028.4,350.7 2024.1,389.3 2018.0,401.0C2011.9,412.6 1992.3,414.4 1981.2,412.0C1970.2,409.5 1956.1,396.7 1951.8,386.2C1947.5,375.8 1944.4,356.8 1955.5,349.5Z" fill="#000" fill-opacity="0.55" filter="url(#bl9)"/><path d="M2157.7,492.9C2165.1,485.5 2185.3,473.9 2194.5,474.5C2203.7,475.1 2215.3,488.6 2212.9,496.6C2210.4,504.5 2190.2,518.6 2179.8,522.3C2169.4,526.0 2154.1,523.5 2150.4,518.6C2146.7,513.7 2150.4,500.2 2157.7,492.9Z" fill="#000" fill-opacity="0.68" filter="url(#bl8)"/><path d="M1837.8,195.0C1837.2,186.4 1842.7,176.0 1848.8,169.3C1855.0,162.5 1864.2,157.3 1874.6,154.6C1885.0,151.8 1898.5,151.5 1911.4,152.7C1924.2,154.0 1938.9,156.7 1951.8,161.9C1964.7,167.1 1979.1,175.4 1988.6,184.0C1998.1,192.6 2005.7,204.8 2008.8,213.4C2011.9,222.0 2010.3,228.7 2007.0,235.5C2003.6,242.2 1997.2,249.6 1988.6,253.9C1980.0,258.2 1967.1,261.2 1955.5,261.2C1943.8,261.2 1931.0,257.5 1918.7,253.9C1906.4,250.2 1893.0,244.7 1881.9,239.2C1870.9,233.6 1859.9,228.1 1852.5,220.8C1845.2,213.4 1838.4,203.6 1837.8,195.0Z" fill="#000" fill-opacity="0.80" filter="url(#nblur)"/><path d="M2029.0,327.4C2033.3,317.6 2044.3,310.4 2054.8,305.3C2065.2,300.3 2079.3,297.9 2091.5,297.3C2103.8,296.6 2116.7,297.9 2128.3,301.7C2140.0,305.5 2152.2,312.1 2161.4,320.1C2170.6,328.0 2178.9,338.4 2183.5,349.5C2188.1,360.5 2189.6,374.0 2189.0,386.2C2188.4,398.5 2185.0,412.0 2179.8,423.0C2174.6,434.1 2166.9,444.5 2157.7,452.4C2148.5,460.4 2136.3,466.8 2124.6,470.8C2113.0,474.8 2100.1,477.0 2087.9,476.3C2075.6,475.7 2061.5,472.4 2051.1,467.1C2040.7,461.9 2031.4,453.1 2025.3,445.1C2019.3,437.1 2015.7,427.9 2015.0,419.3C2014.4,410.8 2019.3,402.8 2021.7,393.6C2024.0,384.4 2027.8,375.2 2029.0,364.2C2030.2,353.2 2024.7,337.2 2029.0,327.4Z" fill="#000" fill-opacity="0.80" filter="url(#nblur)"/><path d="M2121.0,70.0C2102.3,74.9 2125.9,91.8 2132.0,99.4C2138.1,107.1 2148.5,112.3 2157.7,116.0C2166.9,119.6 2177.3,121.8 2187.1,121.5C2197.0,121.2 2208.3,118.4 2216.6,114.1C2224.8,109.8 2232.2,103.1 2236.8,95.7C2241.4,88.4 2263.5,74.3 2244.1,70.0C2224.8,65.7 2139.6,65.1 2121.0,70.0Z" fill="#000" fill-opacity="0.80" filter="url(#nblur)"/><path d="M2341.6,103.1C2335.5,82.6 2316.5,101.9 2304.8,104.9C2293.2,108.0 2280.6,113.8 2271.7,121.5C2262.8,129.1 2255.2,141.1 2251.5,150.9C2247.8,160.7 2247.5,171.1 2249.7,180.3C2251.8,189.5 2257.0,199.0 2264.4,206.1C2271.7,213.1 2280.9,218.9 2293.8,222.6C2306.7,226.3 2333.6,248.0 2341.6,228.1C2349.6,208.2 2347.7,123.6 2341.6,103.1Z" fill="#000" fill-opacity="0.80" filter="url(#nblur)"/></mask>
<filter id="sp-p3" x="0" y="0" width="100%" height="100%" color-interpolation-filters="sRGB">
<feTurbulence type="fractalNoise" baseFrequency="0.125" numOctaves="2" seed="23" result="n"/>
<feColorMatrix in="n" type="matrix" values="5.0 0 0 0 -2.875  0 1 0 0 0  0 0 0 0 0  0 0 0 0 1" result="a"/>
<feTurbulence type="fractalNoise" baseFrequency="0.03" numOctaves="2" seed="30" result="m"/>
<feColorMatrix in="m" type="matrix" values="0 0 0 0 0  0 0 0 0 0  0 0 1 0 0  0 0 0 0 1" result="b"/>
<feComposite in="a" in2="b" operator="arithmetic" k1="0" k2="1" k3="1" k4="0" result="c"/>
<feColorMatrix in="c" type="matrix" values="0.5 0.9 0.8 0 -0.190  0.03 0 0 0 0  0.10 0.05 0 0 0.1  0 0 0 0 1" result="g"/>
<feGaussianBlur in="g" stdDeviation="1.1"/>
</filter>
<clipPath id="cl-p3"><rect x="1286.5" y="586.6" width="510.1" height="491.4"/></clipPath>
<mask id="mk-p3" maskUnits="userSpaceOnUse" x="1281.5" y="581.6" width="520.1" height="501.4"><rect x="1281.5" y="581.6" width="520.1" height="501.4" fill="#000"/><rect x="1281.5" y="581.6" width="520.1" height="501.4" fill="#fff" fill-opacity="0.94"/><path d="M1277.4,711.7C1285.9,698.3 1320.9,705.6 1328.8,719.1C1336.8,732.6 1333.7,779.2 1325.2,792.6C1316.6,806.1 1285.3,813.5 1277.4,800.0C1269.4,786.5 1268.8,725.2 1277.4,711.7Z" fill="#fff" fill-opacity="0.35" filter="url(#bl5)"/><path d="M1623.0,586.7C1650.0,578.7 1770.1,578.7 1799.5,586.7C1828.9,594.7 1826.5,626.5 1799.5,634.5C1772.6,642.5 1667.1,642.5 1637.7,634.5C1608.3,626.5 1596.1,594.7 1623.0,586.7Z" fill="#fff" fill-opacity="0.3" filter="url(#bl6)"/><path d="M1637.7,682.3C1664.7,663.9 1772.6,663.9 1799.5,682.3C1826.5,700.7 1826.5,774.3 1799.5,792.6C1772.6,811.0 1664.7,811.0 1637.7,792.6C1610.8,774.3 1610.8,700.7 1637.7,682.3Z" fill="#fff" fill-opacity="0.2" filter="url(#bl9)"/><path d="M1277.4,583.0C1300.6,575.7 1399.9,572.6 1417.1,583.0C1434.3,593.5 1403.6,638.2 1380.3,645.5C1357.0,652.9 1294.5,637.6 1277.4,627.2C1260.2,616.7 1254.1,590.4 1277.4,583.0Z" fill="#fff" fill-opacity="0.2" filter="url(#bl6)"/><path d="M1556.8,800.0C1561.7,792.0 1583.2,801.2 1593.6,807.3C1604.0,813.5 1616.3,825.1 1619.3,836.8C1622.4,848.4 1617.5,869.2 1612.0,877.2C1606.5,885.2 1594.2,888.2 1586.2,884.6C1578.3,880.9 1569.1,869.2 1564.2,855.2C1559.3,841.1 1551.9,808.0 1556.8,800.0Z" fill="#000" fill-opacity="0.85" filter="url(#bl8)"/><path d="M1277.4,994.9C1285.3,982.0 1308.0,989.4 1325.2,983.9C1342.3,978.3 1368.7,963.6 1380.3,961.8C1392.0,960.0 1401.2,964.9 1395.0,972.8C1388.9,980.8 1359.5,997.3 1343.5,1009.6C1327.6,1021.9 1310.5,1037.8 1299.4,1046.4C1288.4,1054.9 1281.0,1069.7 1277.4,1061.1C1273.7,1052.5 1269.4,1007.8 1277.4,994.9Z" fill="#000" fill-opacity="0.81" filter="url(#bl8)"/><path d="M1656.1,641.9C1666.5,637.0 1705.8,637.6 1729.7,638.2C1753.6,638.8 1787.9,640.0 1799.5,645.5C1811.2,651.1 1811.2,667.0 1799.5,671.3C1787.9,675.6 1751.7,671.9 1729.7,671.3C1707.6,670.7 1679.4,672.5 1667.1,667.6C1654.9,662.7 1645.7,646.8 1656.1,641.9Z" fill="#000" fill-opacity="0.64" filter="url(#bl8)"/><path d="M1453.9,1024.3C1464.9,1012.0 1502.9,1012.7 1527.4,1013.3C1551.9,1013.9 1582.6,1020.0 1601.0,1028.0C1619.3,1036.0 1634.7,1051.3 1637.7,1061.1C1640.8,1070.9 1648.8,1082.5 1619.3,1086.8C1589.9,1091.1 1488.8,1097.2 1461.2,1086.8C1433.6,1076.4 1442.8,1036.6 1453.9,1024.3Z" fill="#000" fill-opacity="0.68" filter="url(#bl9)"/><path d="M1586.2,895.6C1592.4,883.3 1613.2,892.5 1619.3,903.0C1625.5,913.4 1626.1,941.0 1623.0,958.1C1620.0,975.3 1607.7,1002.9 1601.0,1005.9C1594.2,1009.0 1585.0,994.9 1582.6,976.5C1580.1,958.1 1580.1,907.9 1586.2,895.6Z" fill="#000" fill-opacity="0.59" filter="url(#bl8)"/><path d="M1277.4,888.2C1281.6,877.2 1298.2,898.7 1303.1,910.3C1308.0,922.0 1311.1,947.1 1306.8,958.1C1302.5,969.1 1282.3,988.1 1277.4,976.5C1272.5,964.9 1273.1,899.3 1277.4,888.2Z" fill="#000" fill-opacity="0.68" filter="url(#bl8)"/><path d="M1400.5,744.8C1401.5,734.4 1404.5,720.3 1409.7,708.1C1414.9,695.8 1423.2,682.3 1431.8,671.3C1440.4,660.3 1450.8,648.9 1461.2,641.9C1471.6,634.8 1483.3,629.9 1494.3,629.0C1505.3,628.1 1518.8,631.1 1527.4,636.4C1536.0,641.6 1542.1,650.8 1545.8,660.3C1549.5,669.8 1550.7,682.3 1549.5,693.4C1548.2,704.4 1544.0,716.0 1538.4,726.4C1532.9,736.9 1525.0,746.7 1516.4,755.9C1507.8,765.1 1497.4,774.9 1487.0,781.6C1476.5,788.3 1464.3,795.1 1453.9,796.3C1443.4,797.5 1432.7,793.2 1424.4,789.0C1416.2,784.7 1408.2,777.9 1404.2,770.6C1400.2,763.2 1399.6,755.3 1400.5,744.8Z" fill="#000" fill-opacity="0.80" filter="url(#nblur)"/><path d="M1433.6,925.0C1434.6,912.1 1440.1,899.3 1446.5,888.2C1452.9,877.2 1462.4,866.2 1472.3,858.8C1482.1,851.5 1493.7,846.6 1505.3,844.1C1517.0,841.7 1531.1,841.1 1542.1,844.1C1553.2,847.2 1564.5,854.5 1571.5,862.5C1578.6,870.5 1583.2,881.5 1584.4,891.9C1585.6,902.3 1582.9,915.2 1578.9,925.0C1574.9,934.8 1568.5,942.8 1560.5,950.8C1552.5,958.7 1541.5,966.4 1531.1,972.8C1520.7,979.3 1509.0,986.9 1498.0,989.4C1487.0,991.8 1474.4,991.5 1464.9,987.5C1455.4,983.5 1446.2,975.9 1441.0,965.5C1435.8,955.1 1432.7,937.9 1433.6,925.0Z" fill="#000" fill-opacity="0.80" filter="url(#nblur)"/><path d="M1659.8,851.5C1664.1,841.1 1669.6,832.2 1678.2,825.7C1686.8,819.3 1699.6,814.7 1711.3,812.9C1722.9,811.0 1736.4,811.9 1748.0,814.7C1759.7,817.5 1772.6,823.3 1781.1,829.4C1789.7,835.5 1795.2,839.2 1799.5,851.5C1803.8,863.7 1806.9,885.8 1806.9,903.0C1806.9,920.1 1804.4,941.0 1799.5,954.4C1794.6,967.9 1785.4,975.3 1777.5,983.9C1769.5,992.4 1759.1,997.3 1751.7,1005.9C1744.4,1014.5 1740.7,1026.8 1733.3,1035.3C1726.0,1043.9 1717.4,1053.1 1707.6,1057.4C1697.8,1061.7 1684.9,1063.5 1674.5,1061.1C1664.1,1058.6 1652.7,1051.9 1645.1,1042.7C1637.4,1033.5 1631.9,1018.8 1628.5,1005.9C1625.2,993.0 1623.3,979.0 1624.9,965.5C1626.4,952.0 1633.1,937.9 1637.7,925.0C1642.3,912.1 1648.8,900.5 1652.4,888.2C1656.1,876.0 1655.5,861.9 1659.8,851.5Z" fill="#000" fill-opacity="0.80" filter="url(#nblur)"/><path d="M1321.5,1094.2C1299.4,1086.8 1321.5,1062.9 1325.2,1050.0C1328.8,1037.2 1335.6,1024.6 1343.5,1017.0C1351.5,1009.3 1362.5,1004.7 1373.0,1004.1C1383.4,1003.5 1396.3,1007.5 1406.1,1013.3C1415.9,1019.1 1424.4,1029.8 1431.8,1039.0C1439.2,1048.2 1445.9,1059.2 1450.2,1068.4C1454.5,1077.6 1479.0,1089.9 1457.5,1094.2C1436.1,1098.5 1343.5,1101.5 1321.5,1094.2Z" fill="#000" fill-opacity="0.80" filter="url(#nblur)"/><path d="M1270.0,630.8C1274.3,622.6 1289.0,632.1 1295.7,636.4C1302.5,640.6 1309.2,649.5 1310.5,656.6C1311.7,663.6 1309.8,673.7 1303.1,678.6C1296.4,683.5 1275.5,694.0 1270.0,686.0C1264.5,678.0 1265.7,639.1 1270.0,630.8Z" fill="#000" fill-opacity="0.80" filter="url(#nblur)"/><path d="M1270.0,836.8C1273.7,827.0 1287.8,844.7 1292.1,851.5C1296.4,858.2 1296.4,868.6 1295.7,877.2C1295.1,885.8 1292.7,897.4 1288.4,903.0C1284.1,908.5 1273.1,921.3 1270.0,910.3C1266.9,899.3 1266.3,846.6 1270.0,836.8Z" fill="#000" fill-opacity="0.80" filter="url(#nblur)"/><path d="M1821.6,789.0C1816.7,778.5 1798.3,793.2 1792.2,800.0C1786.0,806.7 1784.2,820.2 1784.8,829.4C1785.4,838.6 1789.7,849.6 1795.9,855.2C1802.0,860.7 1817.3,873.5 1821.6,862.5C1825.9,851.5 1826.5,799.4 1821.6,789.0Z" fill="#000" fill-opacity="0.80" filter="url(#nblur)"/></mask>
<filter id="sp-p4" x="0" y="0" width="100%" height="100%" color-interpolation-filters="sRGB">
<feTurbulence type="fractalNoise" baseFrequency="0.125" numOctaves="2" seed="37" result="n"/>
<feColorMatrix in="n" type="matrix" values="5.0 0 0 0 -2.900  0 1 0 0 0  0 0 0 0 0  0 0 0 0 1" result="a"/>
<feTurbulence type="fractalNoise" baseFrequency="0.03" numOctaves="2" seed="44" result="m"/>
<feColorMatrix in="m" type="matrix" values="0 0 0 0 0  0 0 0 0 0  0 0 1 0 0  0 0 0 0 1" result="b"/>
<feComposite in="a" in2="b" operator="arithmetic" k1="0" k2="1" k3="1" k4="0" result="c"/>
<feColorMatrix in="c" type="matrix" values="0.6 0.9 0.8 0 -0.390  0.03 0 0 0 0  0.10 0.05 0 0 0.18  0 0 0 0 1" result="g"/>
<feGaussianBlur in="g" stdDeviation="1.1"/>
</filter>
<clipPath id="cl-p4"><rect x="1807.5" y="586.6" width="508.1" height="491.7"/></clipPath>
<mask id="mk-p4" maskUnits="userSpaceOnUse" x="1802.5" y="581.6" width="518.1" height="501.7"><rect x="1802.5" y="581.6" width="518.1" height="501.7" fill="#000"/><rect x="1802.5" y="581.6" width="518.1" height="501.7" fill="#fff" fill-opacity="0.85"/><path d="M2157.7,994.9C2179.2,983.2 2241.1,1019.4 2268.0,1013.3C2295.0,1007.1 2310.9,946.5 2319.5,958.1C2328.1,969.8 2349.6,1062.3 2319.5,1083.1C2289.5,1104.0 2166.3,1097.9 2139.3,1083.1C2112.4,1068.4 2136.3,1006.5 2157.7,994.9Z" fill="#fff" fill-opacity="0.6" filter="url(#bl5)"/><path d="M1951.8,866.2C1959.8,858.8 1984.9,852.7 1995.9,858.8C2007.0,865.0 2019.2,891.9 2018.0,903.0C2016.8,914.0 2000.2,925.0 1988.6,925.0C1976.9,925.0 1954.3,912.8 1948.1,903.0C1942.0,893.1 1943.8,873.5 1951.8,866.2Z" fill="#fff" fill-opacity="0.5" filter="url(#bl4)"/><path d="M2047.4,711.7C2065.8,705.6 2154.1,705.6 2176.1,719.1C2198.2,732.6 2189.0,782.8 2179.8,792.6C2170.6,802.4 2140.0,784.1 2121.0,777.9C2102.0,771.8 2078.1,766.9 2065.8,755.9C2053.5,744.8 2029.0,717.9 2047.4,711.7Z" fill="#fff" fill-opacity="0.2" filter="url(#bl6)"/><path d="M1797.4,656.6C1814.5,642.5 1873.4,651.1 1900.3,652.9C1927.3,654.7 1948.1,659.0 1959.2,667.6C1970.2,676.2 1976.3,695.8 1966.5,704.4C1956.7,713.0 1923.6,715.4 1900.3,719.1C1877.0,722.8 1843.9,723.4 1826.8,726.4C1809.6,729.5 1802.3,749.1 1797.4,737.5C1792.5,725.8 1780.2,670.7 1797.4,656.6Z" fill="#000" fill-opacity="0.85" filter="url(#bl9)"/><path d="M2010.6,678.6C2017.4,673.1 2044.3,671.9 2054.8,675.0C2065.2,678.0 2074.4,690.3 2073.2,697.0C2071.9,703.8 2057.2,713.6 2047.4,715.4C2037.6,717.3 2020.4,714.2 2014.3,708.1C2008.2,701.9 2003.9,684.2 2010.6,678.6Z" fill="#000" fill-opacity="0.85" filter="url(#bl6)"/><path d="M1797.4,939.7C1814.5,920.1 1875.8,928.7 1900.3,932.4C1924.8,936.1 1919.9,954.4 1944.4,961.8C1969.0,969.1 2018.0,967.9 2047.4,976.5C2076.8,985.1 2108.7,998.6 2121.0,1013.3C2133.2,1028.0 2139.3,1058.6 2121.0,1064.8C2102.6,1070.9 2047.4,1055.6 2010.6,1050.0C1973.9,1044.5 1935.9,1031.7 1900.3,1031.7C1864.8,1031.7 1814.5,1065.4 1797.4,1050.0C1780.2,1034.7 1780.2,959.3 1797.4,939.7Z" fill="#000" fill-opacity="0.81" filter="url(#bl9)"/><path d="M1881.9,895.6C1888.7,890.7 1910.7,887.6 1918.7,891.9C1926.7,896.2 1932.8,914.0 1929.7,921.3C1926.7,928.7 1908.9,936.1 1900.3,936.1C1891.7,936.1 1881.3,928.1 1878.3,921.3C1875.2,914.6 1875.2,900.5 1881.9,895.6Z" fill="#000" fill-opacity="0.85" filter="url(#bl6)"/><path d="M2190.8,770.6C2198.2,764.4 2222.7,762.0 2231.3,766.9C2239.9,771.8 2245.4,791.4 2242.3,800.0C2239.2,808.6 2222.1,817.8 2212.9,818.4C2203.7,819.0 2190.8,811.6 2187.1,803.7C2183.5,795.7 2183.5,776.7 2190.8,770.6Z" fill="#000" fill-opacity="0.77" filter="url(#bl8)"/><path d="M1797.4,583.0C1845.2,572.6 2036.4,578.1 2084.2,583.0C2132.0,587.9 2108.7,602.0 2084.2,612.5C2059.7,622.9 1984.9,640.0 1937.1,645.5C1889.3,651.1 1820.6,656.0 1797.4,645.5C1774.1,635.1 1749.5,593.5 1797.4,583.0Z" fill="#000" fill-opacity="0.59" filter="url(#bl10)"/><path d="M2113.6,925.0C2117.3,916.4 2144.2,900.5 2150.4,903.0C2156.5,905.4 2154.1,931.1 2150.4,939.7C2146.7,948.3 2134.4,956.9 2128.3,954.4C2122.2,952.0 2109.9,933.6 2113.6,925.0Z" fill="#000" fill-opacity="0.77" filter="url(#bl5)"/><path d="M1815.7,862.5C1815.4,852.1 1817.0,835.5 1821.3,822.1C1825.5,808.6 1833.2,793.9 1841.5,781.6C1849.8,769.3 1860.5,757.4 1870.9,748.5C1881.3,739.6 1893.0,731.3 1904.0,728.3C1915.0,725.2 1927.6,726.1 1937.1,730.1C1946.6,734.1 1955.5,743.0 1961.0,752.2C1966.5,761.4 1969.9,773.6 1970.2,785.3C1970.5,796.9 1967.7,810.4 1962.8,822.1C1957.9,833.7 1949.3,844.7 1940.8,855.2C1932.2,865.6 1921.8,876.9 1911.4,884.6C1900.9,892.2 1889.3,898.4 1878.3,901.1C1867.2,903.9 1854.4,903.9 1845.2,901.1C1836.0,898.4 1828.0,891.0 1823.1,884.6C1818.2,878.1 1816.0,872.9 1815.7,862.5Z" fill="#000" fill-opacity="0.80" filter="url(#nblur)"/><path d="M1992.3,836.8C1992.3,825.1 1994.7,810.4 1999.6,800.0C2004.5,789.6 2013.1,780.1 2021.7,774.3C2030.2,768.4 2041.3,765.1 2051.1,765.1C2060.9,765.1 2071.3,768.4 2080.5,774.3C2089.7,780.1 2098.9,790.2 2106.2,800.0C2113.6,809.8 2120.3,821.4 2124.6,833.1C2128.9,844.7 2132.0,858.2 2132.0,869.9C2132.0,881.5 2129.5,893.8 2124.6,903.0C2119.7,912.1 2111.1,920.1 2102.6,925.0C2094.0,929.9 2083.0,933.0 2073.2,932.4C2063.3,931.8 2052.9,926.9 2043.7,921.3C2034.5,915.8 2025.3,907.9 2018.0,899.3C2010.6,890.7 2003.9,880.3 1999.6,869.9C1995.3,859.4 1992.3,848.4 1992.3,836.8Z" fill="#000" fill-opacity="0.80" filter="url(#nblur)"/><path d="M2095.2,572.0C2067.0,579.4 2095.2,602.6 2098.9,616.1C2102.6,629.6 2109.3,642.5 2117.3,652.9C2125.2,663.3 2135.7,672.2 2146.7,678.6C2157.7,685.1 2171.2,690.9 2183.5,691.5C2195.7,692.1 2209.2,688.1 2220.2,682.3C2231.3,676.5 2242.0,667.0 2249.7,656.6C2257.3,646.2 2263.1,633.9 2266.2,619.8C2269.3,605.7 2296.5,580.0 2268.0,572.0C2239.5,564.0 2123.4,564.6 2095.2,572.0Z" fill="#000" fill-opacity="0.80" filter="url(#nblur)"/><path d="M2212.9,851.5C2219.0,844.1 2231.3,833.7 2242.3,829.4C2253.3,825.1 2266.2,824.5 2279.1,825.7C2291.9,827.0 2309.1,830.0 2319.5,836.8C2329.9,843.5 2337.9,849.0 2341.6,866.2C2345.3,883.3 2347.7,922.0 2341.6,939.7C2335.5,957.5 2315.2,963.6 2304.8,972.8C2294.4,982.0 2288.9,988.8 2279.1,994.9C2269.3,1001.0 2258.2,1007.8 2246.0,1009.6C2233.7,1011.4 2217.8,1009.6 2205.5,1005.9C2193.3,1002.2 2181.3,995.5 2172.4,987.5C2163.6,979.6 2156.2,968.5 2152.2,958.1C2148.2,947.7 2147.0,935.4 2148.5,925.0C2150.1,914.6 2155.0,902.3 2161.4,895.6C2167.8,888.9 2179.8,888.2 2187.1,884.6C2194.5,880.9 2201.2,879.1 2205.5,873.5C2209.8,868.0 2206.8,858.8 2212.9,851.5Z" fill="#000" fill-opacity="0.80" filter="url(#nblur)"/><path d="M2341.6,1039.0C2336.7,1031.0 2319.2,1042.1 2312.2,1046.4C2305.1,1050.7 2301.8,1056.8 2299.3,1064.8C2296.9,1072.7 2290.4,1089.3 2297.5,1094.2C2304.5,1099.1 2334.2,1103.4 2341.6,1094.2C2348.9,1085.0 2346.5,1047.0 2341.6,1039.0Z" fill="#000" fill-opacity="0.80" filter="url(#nblur)"/></mask>
</defs>
<g id="panelB">
<g clip-path="url(#cl-p1)" style="isolation:isolate">
<rect x="1286.5" y="85.4" width="510.1" height="491.0" fill="#19021a"/>
<g mask="url(#mk-p1)"><rect x="1286.5" y="85.4" width="510.1" height="491.0" filter="url(#sp-p1)"/></g>
<path d="M1692.9,298.0C1712.5,283.3 1781.8,249.6 1799.5,275.9C1817.3,302.3 1811.2,429.1 1799.5,456.1C1787.9,483.1 1749.3,453.1 1729.7,437.7C1710.0,422.4 1688.0,387.5 1681.9,364.2C1675.7,340.9 1673.3,312.7 1692.9,298.0Z" fill="#ff0838" fill-opacity="0.25" filter="url(#bl8)"/>
<path d="M1284.7,81.0C1291.5,70.6 1320.3,73.7 1325.2,81.0C1330.1,88.4 1320.9,114.7 1314.1,125.2C1307.4,135.6 1289.6,150.9 1284.7,143.5C1279.8,136.2 1278.0,91.5 1284.7,81.0Z" fill="#ff0838" fill-opacity="0.3" filter="url(#bl4)"/>
<g style="mix-blend-mode:screen">
<path d="M1380.3,70.0C1353.4,76.7 1353.4,96.4 1343.5,110.5C1333.7,124.5 1325.5,140.5 1321.5,154.6C1317.5,168.7 1317.8,182.2 1319.6,195.0C1321.5,207.9 1326.7,222.9 1332.5,231.8C1338.3,240.7 1345.4,246.5 1354.6,248.3C1363.8,250.2 1376.0,246.8 1387.7,242.8C1399.3,238.8 1413.4,232.4 1424.4,224.4C1435.5,216.5 1444.7,204.8 1453.9,195.0C1463.1,185.2 1472.3,176.0 1479.6,165.6C1487.0,155.2 1493.4,142.9 1498.0,132.5C1502.6,122.1 1506.0,113.5 1507.2,103.1C1508.4,92.7 1526.5,75.5 1505.3,70.0C1484.2,64.5 1407.3,63.3 1380.3,70.0Z" fill="#3006f4" filter="url(#nblur)"/>
<path d="M1409.7,298.0C1412.5,284.5 1417.1,266.7 1424.4,253.9C1431.8,241.0 1442.8,228.2 1453.9,220.8C1464.9,213.3 1479.0,208.1 1490.6,209.0C1502.3,209.9 1513.9,225.4 1523.7,226.3C1533.5,227.1 1539.7,216.4 1549.5,214.1C1559.3,211.9 1573.1,209.1 1582.6,212.7C1592.1,216.2 1601.6,226.2 1606.5,235.5C1611.4,244.8 1612.9,258.2 1612.0,268.6C1611.1,279.0 1605.9,288.2 1601.0,298.0C1596.1,307.8 1589.9,317.6 1582.6,327.4C1575.2,337.2 1566.0,348.2 1556.8,356.8C1547.6,365.4 1538.4,373.7 1527.4,378.9C1516.4,384.1 1502.9,387.5 1490.6,388.1C1478.4,388.7 1464.9,386.6 1453.9,382.6C1442.8,378.6 1432.1,372.1 1424.4,364.2C1416.8,356.2 1410.3,345.8 1407.9,334.8C1405.4,323.7 1407.0,311.5 1409.7,298.0Z" fill="#3006f4" filter="url(#nblur)"/>
<path d="M1499.8,474.5C1502.3,462.2 1505.7,447.0 1512.7,437.7C1519.7,428.4 1531.7,421.4 1542.1,418.6C1552.5,415.8 1566.0,418.3 1575.2,421.2C1584.4,424.1 1589.3,433.1 1597.3,435.9C1605.2,438.6 1613.2,436.7 1623.0,437.7C1632.8,438.8 1646.3,437.2 1656.1,442.1C1665.9,447.0 1676.3,457.5 1681.9,467.1C1687.4,476.8 1689.8,489.2 1689.2,500.2C1688.6,511.3 1683.1,522.9 1678.2,533.3C1673.3,543.8 1665.3,552.9 1659.8,562.8C1654.3,572.6 1667.1,587.3 1645.1,592.2C1623.0,597.1 1550.1,599.5 1527.4,592.2C1504.7,584.8 1513.9,561.5 1509.0,548.0C1504.1,534.6 1499.5,523.5 1498.0,511.3C1496.5,499.0 1497.4,486.8 1499.8,474.5Z" fill="#3006f4" filter="url(#nblur)"/>
<path d="M1751.7,70.0C1740.6,75.5 1751.6,93.9 1754.7,103.1C1757.7,112.3 1763.1,119.8 1770.1,125.2C1777.1,130.6 1788.0,138.5 1796.6,135.5C1805.2,132.4 1817.4,117.7 1821.6,106.8C1825.8,95.9 1833.2,76.1 1821.6,70.0C1809.9,63.9 1762.9,64.5 1751.7,70.0Z" fill="#3006f4" filter="url(#nblur)"/>
<path d="M1810.6,516.8C1804.4,505.8 1793.4,521.7 1784.8,526.0C1776.2,530.3 1767.0,536.4 1759.1,542.5C1751.1,548.7 1742.2,554.5 1737.0,562.8C1731.8,571.0 1713.7,587.3 1727.8,592.2C1741.9,597.1 1807.8,604.7 1821.6,592.2C1835.4,579.6 1816.7,527.8 1810.6,516.8Z" fill="#3006f4" filter="url(#nblur)"/>
<ellipse cx="1505.3" cy="298.0" rx="44.1" ry="44.1" fill="#ff00e0" fill-opacity="0.1" filter="url(#bl10)"/>
<ellipse cx="1593.6" cy="492.9" rx="47.8" ry="40.5" fill="#ff00e0" fill-opacity="0.1" filter="url(#bl10)"/>
</g>
<path d="M1593.6,92.1C1603.4,92.7 1622.1,89.0 1634.1,97.6C1646.0,106.2 1659.7,127.9 1665.3,143.5C1670.9,159.2 1669.7,173.0 1667.9,191.4C1666.0,209.7 1659.3,237.3 1654.3,253.9C1649.3,270.4 1644.5,279.6 1637.7,290.6C1631.0,301.7 1620.3,311.8 1613.8,320.1C1607.4,328.3 1604.3,332.9 1599.1,340.3C1593.9,347.6 1590.2,355.9 1582.6,364.2C1574.9,372.5 1562.3,383.9 1553.2,389.9C1544.0,395.9 1537.8,397.8 1527.4,400.2C1517.0,402.7 1501.7,404.5 1490.6,404.6C1479.6,404.8 1471.6,402.2 1461.2,401.0C1450.8,399.7 1436.7,397.0 1428.1,397.3C1419.5,397.6 1416.5,398.5 1409.7,402.8C1403.0,407.1 1395.0,416.6 1387.7,423.0C1380.3,429.5 1373.0,437.1 1365.6,441.4C1358.3,445.7 1349.7,448.8 1343.5,448.8C1337.4,448.8 1332.2,446.3 1328.8,441.4C1325.5,436.5 1323.9,429.1 1323.3,419.3C1322.7,409.5 1323.3,395.4 1325.2,382.6C1327.0,369.7 1330.1,355.0 1334.4,342.1C1338.6,329.2 1343.9,316.4 1350.9,305.3C1357.9,294.3 1367.4,285.7 1376.6,275.9C1385.8,266.1 1397.5,255.1 1406.1,246.5C1414.6,237.9 1420.8,231.2 1428.1,224.4C1435.5,217.7 1444.4,212.8 1450.2,206.1C1456.0,199.3 1457.5,191.4 1463.1,184.0C1468.6,176.6 1475.0,168.7 1483.3,161.9C1491.6,155.2 1504.1,150.3 1512.7,143.5C1521.3,136.8 1528.0,128.1 1534.8,121.5C1541.5,114.9 1546.4,108.4 1553.2,103.8C1559.9,99.2 1568.5,95.9 1575.2,93.9C1582.0,91.9 1583.8,91.5 1593.6,92.1Z" fill="none" stroke="#fff" stroke-width="2.7" stroke-dasharray="9 6" stroke-opacity="0.95"/>
</g>
<text transform="translate(1300.17,150.32) scale(1.0169,1)" font-family="'Liberation Sans', sans-serif" font-weight="normal" font-size="57.55" fill="#fff" xml:space="preserve" >Control</text>
<g clip-path="url(#cl-p2)" style="isolation:isolate">
<rect x="1807.5" y="85.4" width="508.1" height="491.0" fill="#0c0034"/>
<g mask="url(#mk-p2)"><rect x="1807.5" y="85.4" width="508.1" height="491.0" filter="url(#sp-p2)"/></g>
<g style="mix-blend-mode:screen">
<path d="M1837.8,195.0C1837.2,186.4 1842.7,176.0 1848.8,169.3C1855.0,162.5 1864.2,157.3 1874.6,154.6C1885.0,151.8 1898.5,151.5 1911.4,152.7C1924.2,154.0 1938.9,156.7 1951.8,161.9C1964.7,167.1 1979.1,175.4 1988.6,184.0C1998.1,192.6 2005.7,204.8 2008.8,213.4C2011.9,222.0 2010.3,228.7 2007.0,235.5C2003.6,242.2 1997.2,249.6 1988.6,253.9C1980.0,258.2 1967.1,261.2 1955.5,261.2C1943.8,261.2 1931.0,257.5 1918.7,253.9C1906.4,250.2 1893.0,244.7 1881.9,239.2C1870.9,233.6 1859.9,228.1 1852.5,220.8C1845.2,213.4 1838.4,203.6 1837.8,195.0Z" fill="#3006f4" filter="url(#nblur)"/>
<path d="M2029.0,327.4C2033.3,317.6 2044.3,310.4 2054.8,305.3C2065.2,300.3 2079.3,297.9 2091.5,297.3C2103.8,296.6 2116.7,297.9 2128.3,301.7C2140.0,305.5 2152.2,312.1 2161.4,320.1C2170.6,328.0 2178.9,338.4 2183.5,349.5C2188.1,360.5 2189.6,374.0 2189.0,386.2C2188.4,398.5 2185.0,412.0 2179.8,423.0C2174.6,434.1 2166.9,444.5 2157.7,452.4C2148.5,460.4 2136.3,466.8 2124.6,470.8C2113.0,474.8 2100.1,477.0 2087.9,476.3C2075.6,475.7 2061.5,472.4 2051.1,467.1C2040.7,461.9 2031.4,453.1 2025.3,445.1C2019.3,437.1 2015.7,427.9 2015.0,419.3C2014.4,410.8 2019.3,402.8 2021.7,393.6C2024.0,384.4 2027.8,375.2 2029.0,364.2C2030.2,353.2 2024.7,337.2 2029.0,327.4Z" fill="#3006f4" filter="url(#nblur)"/>
<path d="M2121.0,70.0C2102.3,74.9 2125.9,91.8 2132.0,99.4C2138.1,107.1 2148.5,112.3 2157.7,116.0C2166.9,119.6 2177.3,121.8 2187.1,121.5C2197.0,121.2 2208.3,118.4 2216.6,114.1C2224.8,109.8 2232.2,103.1 2236.8,95.7C2241.4,88.4 2263.5,74.3 2244.1,70.0C2224.8,65.7 2139.6,65.1 2121.0,70.0Z" fill="#3006f4" filter="url(#nblur)"/>
<path d="M2341.6,103.1C2335.5,82.6 2316.5,101.9 2304.8,104.9C2293.2,108.0 2280.6,113.8 2271.7,121.5C2262.8,129.1 2255.2,141.1 2251.5,150.9C2247.8,160.7 2247.5,171.1 2249.7,180.3C2251.8,189.5 2257.0,199.0 2264.4,206.1C2271.7,213.1 2280.9,218.9 2293.8,222.6C2306.7,226.3 2333.6,248.0 2341.6,228.1C2349.6,208.2 2347.7,123.6 2341.6,103.1Z" fill="#3006f4" filter="url(#nblur)"/>
<ellipse cx="2102.6" cy="382.6" rx="40.5" ry="40.5" fill="#ff00e0" fill-opacity="0.16" filter="url(#bl10)"/>
</g>
<path d="M2150.4,202.4C2158.5,201.5 2198.7,199.8 2205.5,202.4C2212.4,205.0 2208.6,216.7 2209.2,224.4C2209.9,232.2 2210.0,260.9 2211.0,268.6C2212.1,276.3 2216.0,285.5 2218.4,290.6C2220.8,295.8 2229.3,307.6 2231.3,312.7C2233.2,317.8 2235.4,327.9 2235.0,334.8C2234.5,341.6 2229.5,363.8 2227.6,371.5C2225.7,379.3 2220.5,394.9 2218.4,401.0C2216.3,407.0 2211.1,417.4 2209.2,423.0C2207.3,428.6 2205.7,443.6 2201.9,448.8C2198.0,453.9 2183.4,462.9 2176.1,467.1C2168.8,471.4 2148.8,481.2 2139.3,485.5C2129.9,489.8 2105.9,500.5 2095.2,503.9C2084.5,507.4 2059.0,512.8 2047.4,515.0C2035.8,517.1 2007.1,521.4 1995.9,522.3C1984.8,523.2 1960.0,523.2 1951.8,522.3C1943.6,521.4 1931.6,517.5 1926.1,515.0C1920.5,512.4 1908.3,504.5 1904.0,500.2C1899.7,496.0 1892.3,484.6 1889.3,478.2C1886.3,471.7 1879.8,452.8 1878.3,445.1C1876.8,437.4 1875.8,419.3 1876.4,412.0C1877.1,404.7 1881.4,388.6 1883.8,382.6C1886.1,376.6 1892.6,364.8 1896.6,360.5C1900.7,356.2 1913.6,348.7 1918.7,345.8C1923.9,342.9 1935.2,337.0 1940.8,335.5C1946.3,334.0 1960.1,334.1 1966.5,332.9C1972.9,331.8 1989.5,327.5 1995.9,325.6C2002.4,323.6 2015.7,319.6 2021.7,316.4C2027.7,313.2 2041.8,302.3 2047.4,298.0C2053.0,293.7 2065.2,283.5 2069.5,279.6C2073.8,275.7 2080.3,268.8 2084.2,264.9C2088.0,261.0 2098.3,250.8 2102.6,246.5C2106.9,242.2 2117.1,232.4 2121.0,228.1C2124.8,223.8 2132.2,212.7 2135.7,209.7C2139.1,206.7 2142.2,203.2 2150.4,202.4Z" fill="none" stroke="#fff" stroke-width="2.9" stroke-dasharray="17 8" stroke-opacity="0.95"/>
</g>
<text transform="translate(1822.50,149.93) scale(0.9349,1)" font-family="'Liberation Sans', sans-serif" font-weight="normal" font-size="57.01" fill="#fff" xml:space="preserve" >Spike</text>
<g clip-path="url(#cl-p3)" style="isolation:isolate">
<rect x="1286.5" y="586.6" width="510.1" height="491.4" fill="#19021a"/>
<g mask="url(#mk-p3)"><rect x="1286.5" y="586.6" width="510.1" height="491.4" filter="url(#sp-p3)"/></g>
<path d="M1277.4,719.1C1284.7,706.8 1314.7,714.2 1321.5,726.4C1328.2,738.7 1325.2,780.4 1317.8,792.6C1310.5,804.9 1284.1,812.2 1277.4,800.0C1270.6,787.7 1270.0,731.3 1277.4,719.1Z" fill="#ff0838" fill-opacity="0.35" filter="url(#bl4)"/>
<path d="M1630.4,586.7C1656.1,579.4 1771.3,579.4 1799.5,586.7C1827.7,594.1 1825.3,623.5 1799.5,630.8C1773.8,638.2 1673.3,638.2 1645.1,630.8C1616.9,623.5 1604.6,594.1 1630.4,586.7Z" fill="#ff0838" fill-opacity="0.3" filter="url(#bl5)"/>
<g style="mix-blend-mode:screen">
<path d="M1400.5,744.8C1401.5,734.4 1404.5,720.3 1409.7,708.1C1414.9,695.8 1423.2,682.3 1431.8,671.3C1440.4,660.3 1450.8,648.9 1461.2,641.9C1471.6,634.8 1483.3,629.9 1494.3,629.0C1505.3,628.1 1518.8,631.1 1527.4,636.4C1536.0,641.6 1542.1,650.8 1545.8,660.3C1549.5,669.8 1550.7,682.3 1549.5,693.4C1548.2,704.4 1544.0,716.0 1538.4,726.4C1532.9,736.9 1525.0,746.7 1516.4,755.9C1507.8,765.1 1497.4,774.9 1487.0,781.6C1476.5,788.3 1464.3,795.1 1453.9,796.3C1443.4,797.5 1432.7,793.2 1424.4,789.0C1416.2,784.7 1408.2,777.9 1404.2,770.6C1400.2,763.2 1399.6,755.3 1400.5,744.8Z" fill="#3006f4" filter="url(#nblur)"/>
<path d="M1433.6,925.0C1434.6,912.1 1440.1,899.3 1446.5,888.2C1452.9,877.2 1462.4,866.2 1472.3,858.8C1482.1,851.5 1493.7,846.6 1505.3,844.1C1517.0,841.7 1531.1,841.1 1542.1,844.1C1553.2,847.2 1564.5,854.5 1571.5,862.5C1578.6,870.5 1583.2,881.5 1584.4,891.9C1585.6,902.3 1582.9,915.2 1578.9,925.0C1574.9,934.8 1568.5,942.8 1560.5,950.8C1552.5,958.7 1541.5,966.4 1531.1,972.8C1520.7,979.3 1509.0,986.9 1498.0,989.4C1487.0,991.8 1474.4,991.5 1464.9,987.5C1455.4,983.5 1446.2,975.9 1441.0,965.5C1435.8,955.1 1432.7,937.9 1433.6,925.0Z" fill="#3006f4" filter="url(#nblur)"/>
<path d="M1659.8,851.5C1664.1,841.1 1669.6,832.2 1678.2,825.7C1686.8,819.3 1699.6,814.7 1711.3,812.9C1722.9,811.0 1736.4,811.9 1748.0,814.7C1759.7,817.5 1772.6,823.3 1781.1,829.4C1789.7,835.5 1795.2,839.2 1799.5,851.5C1803.8,863.7 1806.9,885.8 1806.9,903.0C1806.9,920.1 1804.4,941.0 1799.5,954.4C1794.6,967.9 1785.4,975.3 1777.5,983.9C1769.5,992.4 1759.1,997.3 1751.7,1005.9C1744.4,1014.5 1740.7,1026.8 1733.3,1035.3C1726.0,1043.9 1717.4,1053.1 1707.6,1057.4C1697.8,1061.7 1684.9,1063.5 1674.5,1061.1C1664.1,1058.6 1652.7,1051.9 1645.1,1042.7C1637.4,1033.5 1631.9,1018.8 1628.5,1005.9C1625.2,993.0 1623.3,979.0 1624.9,965.5C1626.4,952.0 1633.1,937.9 1637.7,925.0C1642.3,912.1 1648.8,900.5 1652.4,888.2C1656.1,876.0 1655.5,861.9 1659.8,851.5Z" fill="#3006f4" filter="url(#nblur)"/>
<path d="M1321.5,1094.2C1299.4,1086.8 1321.5,1062.9 1325.2,1050.0C1328.8,1037.2 1335.6,1024.6 1343.5,1017.0C1351.5,1009.3 1362.5,1004.7 1373.0,1004.1C1383.4,1003.5 1396.3,1007.5 1406.1,1013.3C1415.9,1019.1 1424.4,1029.8 1431.8,1039.0C1439.2,1048.2 1445.9,1059.2 1450.2,1068.4C1454.5,1077.6 1479.0,1089.9 1457.5,1094.2C1436.1,1098.5 1343.5,1101.5 1321.5,1094.2Z" fill="#3006f4" filter="url(#nblur)"/>
<path d="M1270.0,630.8C1274.3,622.6 1289.0,632.1 1295.7,636.4C1302.5,640.6 1309.2,649.5 1310.5,656.6C1311.7,663.6 1309.8,673.7 1303.1,678.6C1296.4,683.5 1275.5,694.0 1270.0,686.0C1264.5,678.0 1265.7,639.1 1270.0,630.8Z" fill="#3006f4" filter="url(#nblur)"/>
<path d="M1270.0,836.8C1273.7,827.0 1287.8,844.7 1292.1,851.5C1296.4,858.2 1296.4,868.6 1295.7,877.2C1295.1,885.8 1292.7,897.4 1288.4,903.0C1284.1,908.5 1273.1,921.3 1270.0,910.3C1266.9,899.3 1266.3,846.6 1270.0,836.8Z" fill="#3006f4" filter="url(#nblur)"/>
<path d="M1821.6,789.0C1816.7,778.5 1798.3,793.2 1792.2,800.0C1786.0,806.7 1784.2,820.2 1784.8,829.4C1785.4,838.6 1789.7,849.6 1795.9,855.2C1802.0,860.7 1817.3,873.5 1821.6,862.5C1825.9,851.5 1826.5,799.4 1821.6,789.0Z" fill="#3006f4" filter="url(#nblur)"/>
<ellipse cx="1711.3" cy="932.4" rx="55.2" ry="80.9" fill="#ff00e0" fill-opacity="0.14" filter="url(#bl10)"/>
<ellipse cx="1505.3" cy="914.0" rx="40.5" ry="40.5" fill="#ff00e0" fill-opacity="0.1" filter="url(#bl10)"/>
</g>
<path d="M1549.5,588.5C1565.4,587.0 1596.7,585.8 1608.3,590.4C1620.0,595.0 1616.6,606.9 1619.3,616.1C1622.1,625.3 1624.2,636.4 1624.9,645.5C1625.5,654.7 1625.2,664.5 1623.0,671.3C1620.9,678.0 1617.5,680.5 1612.0,686.0C1606.5,691.5 1596.7,698.3 1589.9,704.4C1583.2,710.5 1577.1,716.0 1571.5,722.8C1566.0,729.5 1563.0,738.1 1556.8,744.8C1550.7,751.6 1542.7,756.5 1534.8,763.2C1526.8,770.0 1517.6,777.9 1509.0,785.3C1500.4,792.6 1491.9,801.2 1483.3,807.3C1474.7,813.5 1466.1,818.4 1457.5,822.1C1449.0,825.7 1441.0,827.0 1431.8,829.4C1422.6,831.9 1412.2,834.9 1402.4,836.8C1392.6,838.6 1382.8,841.1 1373.0,840.4C1363.2,839.8 1350.6,836.8 1343.5,833.1C1336.5,829.4 1333.4,825.1 1330.7,818.4C1327.9,811.6 1327.0,801.8 1327.0,792.6C1327.0,783.4 1328.8,772.4 1330.7,763.2C1332.5,754.0 1335.3,745.4 1338.0,737.5C1340.8,729.5 1343.9,722.2 1347.2,715.4C1350.6,708.7 1353.4,703.2 1358.3,697.0C1363.2,690.9 1369.9,684.2 1376.6,678.6C1383.4,673.1 1390.7,668.8 1398.7,663.9C1406.7,659.0 1417.1,653.5 1424.4,649.2C1431.8,644.9 1437.3,641.9 1442.8,638.2C1448.3,634.5 1450.8,631.4 1457.5,627.2C1464.3,622.9 1474.1,617.0 1483.3,612.5C1492.5,607.9 1501.7,603.6 1512.7,599.6C1523.7,595.6 1533.5,590.1 1549.5,588.5Z" fill="none" stroke="#fff" stroke-width="2.7" stroke-dasharray="9 6" stroke-opacity="0.95"/>
</g>
<text transform="translate(1291.08,637.82) scale(0.9994,1)" font-family="'Liberation Sans', sans-serif" font-weight="normal" font-size="57.82" fill="#fff" xml:space="preserve" >Fisetin</text>
<g clip-path="url(#cl-p4)" style="isolation:isolate">
<rect x="1807.5" y="586.6" width="508.1" height="491.7" fill="#12002c"/>
<g mask="url(#mk-p4)"><rect x="1807.5" y="586.6" width="508.1" height="491.7" filter="url(#sp-p4)"/></g>
<path d="M2165.1,1013.3C2178.6,1003.5 2212.3,1027.4 2231.3,1024.3C2250.3,1021.2 2264.4,1004.1 2279.1,994.9C2293.8,985.7 2312.8,954.4 2319.5,969.1C2326.3,983.9 2347.7,1064.1 2319.5,1083.1C2291.3,1102.1 2176.1,1094.8 2150.4,1083.1C2124.6,1071.5 2151.6,1023.1 2165.1,1013.3Z" fill="#ff0838" fill-opacity="0.75" filter="url(#bl4)"/>
<path d="M1951.8,869.9C1957.9,861.9 1978.8,858.2 1988.6,862.5C1998.4,866.8 2010.6,885.2 2010.6,895.6C2010.6,906.0 1998.4,922.6 1988.6,925.0C1978.8,927.5 1957.9,919.5 1951.8,910.3C1945.7,901.1 1945.7,877.8 1951.8,869.9Z" fill="#ff0838" fill-opacity="0.45" filter="url(#bl4)"/>
<path d="M2143.0,950.8C2148.5,948.3 2166.3,955.7 2172.4,961.8C2178.6,967.9 2182.9,982.0 2179.8,987.5C2176.7,993.0 2160.8,996.7 2154.1,994.9C2147.3,993.0 2141.2,983.9 2139.3,976.5C2137.5,969.1 2137.5,953.2 2143.0,950.8Z" fill="#ff0838" fill-opacity="0.4" filter="url(#bl3)"/>
<g style="mix-blend-mode:screen">
<path d="M1815.7,862.5C1815.4,852.1 1817.0,835.5 1821.3,822.1C1825.5,808.6 1833.2,793.9 1841.5,781.6C1849.8,769.3 1860.5,757.4 1870.9,748.5C1881.3,739.6 1893.0,731.3 1904.0,728.3C1915.0,725.2 1927.6,726.1 1937.1,730.1C1946.6,734.1 1955.5,743.0 1961.0,752.2C1966.5,761.4 1969.9,773.6 1970.2,785.3C1970.5,796.9 1967.7,810.4 1962.8,822.1C1957.9,833.7 1949.3,844.7 1940.8,855.2C1932.2,865.6 1921.8,876.9 1911.4,884.6C1900.9,892.2 1889.3,898.4 1878.3,901.1C1867.2,903.9 1854.4,903.9 1845.2,901.1C1836.0,898.4 1828.0,891.0 1823.1,884.6C1818.2,878.1 1816.0,872.9 1815.7,862.5Z" fill="#3006f4" filter="url(#nblur)"/>
<path d="M1992.3,836.8C1992.3,825.1 1994.7,810.4 1999.6,800.0C2004.5,789.6 2013.1,780.1 2021.7,774.3C2030.2,768.4 2041.3,765.1 2051.1,765.1C2060.9,765.1 2071.3,768.4 2080.5,774.3C2089.7,780.1 2098.9,790.2 2106.2,800.0C2113.6,809.8 2120.3,821.4 2124.6,833.1C2128.9,844.7 2132.0,858.2 2132.0,869.9C2132.0,881.5 2129.5,893.8 2124.6,903.0C2119.7,912.1 2111.1,920.1 2102.6,925.0C2094.0,929.9 2083.0,933.0 2073.2,932.4C2063.3,931.8 2052.9,926.9 2043.7,921.3C2034.5,915.8 2025.3,907.9 2018.0,899.3C2010.6,890.7 2003.9,880.3 1999.6,869.9C1995.3,859.4 1992.3,848.4 1992.3,836.8Z" fill="#4408f0" filter="url(#nblur)"/>
<path d="M2095.2,572.0C2067.0,579.4 2095.2,602.6 2098.9,616.1C2102.6,629.6 2109.3,642.5 2117.3,652.9C2125.2,663.3 2135.7,672.2 2146.7,678.6C2157.7,685.1 2171.2,690.9 2183.5,691.5C2195.7,692.1 2209.2,688.1 2220.2,682.3C2231.3,676.5 2242.0,667.0 2249.7,656.6C2257.3,646.2 2263.1,633.9 2266.2,619.8C2269.3,605.7 2296.5,580.0 2268.0,572.0C2239.5,564.0 2123.4,564.6 2095.2,572.0Z" fill="#3006f4" filter="url(#nblur)"/>
<path d="M2212.9,851.5C2219.0,844.1 2231.3,833.7 2242.3,829.4C2253.3,825.1 2266.2,824.5 2279.1,825.7C2291.9,827.0 2309.1,830.0 2319.5,836.8C2329.9,843.5 2337.9,849.0 2341.6,866.2C2345.3,883.3 2347.7,922.0 2341.6,939.7C2335.5,957.5 2315.2,963.6 2304.8,972.8C2294.4,982.0 2288.9,988.8 2279.1,994.9C2269.3,1001.0 2258.2,1007.8 2246.0,1009.6C2233.7,1011.4 2217.8,1009.6 2205.5,1005.9C2193.3,1002.2 2181.3,995.5 2172.4,987.5C2163.6,979.6 2156.2,968.5 2152.2,958.1C2148.2,947.7 2147.0,935.4 2148.5,925.0C2150.1,914.6 2155.0,902.3 2161.4,895.6C2167.8,888.9 2179.8,888.2 2187.1,884.6C2194.5,880.9 2201.2,879.1 2205.5,873.5C2209.8,868.0 2206.8,858.8 2212.9,851.5Z" fill="#5a0cf0" filter="url(#nblur)"/>
<path d="M2341.6,1039.0C2336.7,1031.0 2319.2,1042.1 2312.2,1046.4C2305.1,1050.7 2301.8,1056.8 2299.3,1064.8C2296.9,1072.7 2290.4,1089.3 2297.5,1094.2C2304.5,1099.1 2334.2,1103.4 2341.6,1094.2C2348.9,1085.0 2346.5,1047.0 2341.6,1039.0Z" fill="#3006f4" filter="url(#nblur)"/>
<ellipse cx="2040.1" cy="844.1" rx="33.1" ry="40.5" fill="#ff00e0" fill-opacity="0.4" filter="url(#bl10)"/>
<ellipse cx="2242.3" cy="925.0" rx="62.5" ry="55.2" fill="#ff00e0" fill-opacity="0.38" filter="url(#bl10)"/>
<ellipse cx="2201.9" cy="961.8" rx="40.5" ry="33.1" fill="#ff00e0" fill-opacity="0.25" filter="url(#bl10)"/>
<ellipse cx="2176.1" cy="627.2" rx="44.1" ry="33.1" fill="#ff00e0" fill-opacity="0.12" filter="url(#bl10)"/>
<ellipse cx="1885.6" cy="807.3" rx="40.5" ry="44.1" fill="#ff00e0" fill-opacity="0.1" filter="url(#bl10)"/>
</g>
<path d="M2106.2,698.9C2117.9,698.3 2129.5,702.2 2139.3,704.4C2149.1,706.5 2158.3,708.1 2165.1,711.7C2171.8,715.4 2175.8,720.3 2179.8,726.4C2183.8,732.6 2187.8,739.9 2189.0,748.5C2190.2,757.1 2188.7,768.1 2187.1,777.9C2185.6,787.7 2182.9,797.5 2179.8,807.3C2176.7,817.2 2172.4,827.6 2168.8,836.8C2165.1,846.0 2161.1,853.3 2157.7,862.5C2154.4,871.7 2151.3,882.7 2148.5,891.9C2145.8,901.1 2145.2,910.9 2141.2,917.7C2137.2,924.4 2131.1,929.0 2124.6,932.4C2118.2,935.7 2110.5,937.0 2102.6,937.9C2094.6,938.8 2086.0,936.4 2076.8,937.9C2067.6,939.4 2057.2,944.6 2047.4,947.1C2037.6,949.5 2027.8,952.0 2018.0,952.6C2008.2,953.2 1998.4,952.3 1988.6,950.8C1978.8,949.2 1967.7,946.8 1959.2,943.4C1950.6,940.0 1942.3,935.4 1937.1,930.5C1931.9,925.6 1928.8,919.8 1927.9,914.0C1927.0,908.2 1928.8,901.1 1931.6,895.6C1934.3,890.1 1939.8,886.4 1944.4,880.9C1949.0,875.4 1955.5,869.2 1959.2,862.5C1962.8,855.8 1964.1,848.4 1966.5,840.4C1969.0,832.5 1970.8,823.3 1973.9,814.7C1976.9,806.1 1980.6,798.2 1984.9,789.0C1989.2,779.8 1994.1,768.1 1999.6,759.5C2005.1,751.0 2011.2,744.2 2018.0,737.5C2024.7,730.7 2031.5,724.0 2040.1,719.1C2048.6,714.2 2058.4,711.4 2069.5,708.1C2080.5,704.7 2094.6,699.5 2106.2,698.9Z" fill="none" stroke="#fff" stroke-width="2.7" stroke-dasharray="8 6" stroke-opacity="0.95"/>
</g>
<text transform="translate(1831.64,649.14) scale(1.0304,1)" font-family="'Liberation Sans', sans-serif" font-weight="normal" font-size="53.16" fill="#fff" xml:space="preserve" >Spike + Fisetin</text>
<text transform="translate(2181.65,1033.33) scale(0.9978,1)" font-family="'Liberation Sans', sans-serif" font-weight="normal" font-size="43.19" fill="#fff" xml:space="preserve" >20 µm</text>
<rect x="2235.3" y="1054.1" width="68.8" height="7" fill="#fff"/>
</g>
<g id="chart-CL"><rect x="464.80" y="1842.50" width="111.50" height="249.50" fill="#fff" stroke="#000" stroke-width="3.6"/>
<rect x="636.00" y="1915.00" width="110.50" height="177.00" fill="#fff" stroke="#000" stroke-width="3.6"/>
<rect x="809.00" y="1819.00" width="110.00" height="273.00" fill="#fff" stroke="#000" stroke-width="3.6"/>
<rect x="980.30" y="1702.50" width="112.00" height="389.50" fill="#fff" stroke="#000" stroke-width="3.6"/>
<line x1="410.00" y1="1843.70" x2="1145.00" y2="1843.70" stroke="#000" stroke-width="3" stroke-dasharray="11.5 5.2"/>
<line x1="520.00" y1="1746.00" x2="520.00" y2="1943.50" stroke="#000" stroke-width="3.2" />
<line x1="490.50" y1="1746.00" x2="549.50" y2="1746.00" stroke="#000" stroke-width="3.2" />
<line x1="490.50" y1="1943.50" x2="549.50" y2="1943.50" stroke="#000" stroke-width="3.2" />
<line x1="692.00" y1="1861.00" x2="692.00" y2="1961.00" stroke="#000" stroke-width="3.2" />
<line x1="662.50" y1="1861.00" x2="721.50" y2="1861.00" stroke="#000" stroke-width="3.2" />
<line x1="662.50" y1="1961.00" x2="721.50" y2="1961.00" stroke="#000" stroke-width="3.2" />
<line x1="863.50" y1="1706.00" x2="863.50" y2="1927.50" stroke="#000" stroke-width="3.2" />
<line x1="834.00" y1="1706.00" x2="893.00" y2="1706.00" stroke="#000" stroke-width="3.2" />
<line x1="834.00" y1="1927.50" x2="893.00" y2="1927.50" stroke="#000" stroke-width="3.2" />
<line x1="1035.50" y1="1562.50" x2="1035.50" y2="1840.00" stroke="#000" stroke-width="3.2" />
<line x1="1006.00" y1="1562.50" x2="1065.00" y2="1562.50" stroke="#000" stroke-width="3.2" />
<line x1="1006.00" y1="1840.00" x2="1065.00" y2="1840.00" stroke="#000" stroke-width="3.2" />
<g fill="#fff" stroke="#000" stroke-width="1.5"><circle cx="512.0" cy="1741.2" r="7.3"/><circle cx="526.6" cy="1742.5" r="7.3"/><circle cx="526.1" cy="1758.3" r="7.3"/><circle cx="540.7" cy="1765.4" r="7.3"/><circle cx="512.0" cy="1772.2" r="7.3"/><circle cx="526.1" cy="1777.8" r="7.3"/><circle cx="541.2" cy="1783.0" r="7.3"/><circle cx="512.0" cy="1794.2" r="7.3"/><circle cx="526.1" cy="1794.2" r="7.3"/><circle cx="541.2" cy="1803.0" r="7.3"/><circle cx="526.1" cy="1809.7" r="7.3"/><circle cx="497.8" cy="1816.7" r="7.3"/><circle cx="512.0" cy="1818.7" r="7.3"/><circle cx="526.6" cy="1824.6" r="7.3"/><circle cx="483.4" cy="1838.1" r="7.3"/><circle cx="526.6" cy="1844.2" r="7.3"/><circle cx="555.4" cy="1846.4" r="7.3"/><circle cx="497.8" cy="1848.2" r="7.3"/><circle cx="570.0" cy="1852.0" r="7.3"/><circle cx="483.4" cy="1856.1" r="7.3"/><circle cx="469.2" cy="1857.6" r="7.3"/><circle cx="526.1" cy="1859.9" r="7.3"/><circle cx="540.7" cy="1860.3" r="7.3"/><circle cx="497.8" cy="1863.7" r="7.3"/><circle cx="555.4" cy="1863.7" r="7.3"/><circle cx="483.4" cy="1871.6" r="7.3"/><circle cx="512.0" cy="1879.7" r="7.3"/><circle cx="483.4" cy="1910.5" r="7.3"/><circle cx="512.0" cy="1911.2" r="7.3"/><circle cx="555.4" cy="1911.6" r="7.3"/><circle cx="497.8" cy="1915.4" r="7.3"/><circle cx="526.6" cy="1920.6" r="7.3"/><circle cx="540.7" cy="1922.2" r="7.3"/><circle cx="512.0" cy="1934.8" r="7.3"/><circle cx="526.6" cy="1935.7" r="7.3"/><circle cx="497.8" cy="1938.6" r="7.3"/><circle cx="540.7" cy="1945.3" r="7.3"/><circle cx="512.0" cy="1952.1" r="7.3"/><circle cx="526.6" cy="1952.1" r="7.3"/><circle cx="497.8" cy="1966.7" r="7.3"/><circle cx="540.7" cy="1979.5" r="7.3"/><circle cx="526.1" cy="1984.7" r="7.3"/><circle cx="497.8" cy="1991.4" r="7.3"/><circle cx="512.0" cy="1573.8" r="7.3"/><circle cx="526.6" cy="1574.2" r="7.3"/><circle cx="526.6" cy="1643.2" r="7.3"/><circle cx="512.0" cy="1653.6" r="7.3"/></g>
<g fill="#0530e2" stroke="#000" stroke-width="1.5"><circle cx="684.4" cy="1796.9" r="7.3"/><circle cx="698.6" cy="1804.1" r="7.3"/><circle cx="684.4" cy="1816.0" r="7.3"/><circle cx="691.4" cy="1834.0" r="7.3"/><circle cx="669.8" cy="1848.7" r="7.3"/><circle cx="698.6" cy="1856.5" r="7.3"/><circle cx="684.4" cy="1859.9" r="7.3"/><circle cx="713.2" cy="1862.1" r="7.3"/><circle cx="669.8" cy="1864.4" r="7.3"/><circle cx="698.6" cy="1872.3" r="7.3"/><circle cx="713.2" cy="1877.9" r="7.3"/><circle cx="669.8" cy="1881.7" r="7.3"/><circle cx="698.6" cy="1889.1" r="7.3"/><circle cx="655.4" cy="1892.9" r="7.3"/><circle cx="727.8" cy="1891.4" r="7.3"/><circle cx="684.4" cy="1894.1" r="7.3"/><circle cx="713.2" cy="1899.7" r="7.3"/><circle cx="669.8" cy="1901.5" r="7.3"/><circle cx="698.6" cy="1903.7" r="7.3"/><circle cx="727.8" cy="1907.1" r="7.3"/><circle cx="641.7" cy="1913.2" r="7.3"/><circle cx="741.8" cy="1914.5" r="7.3"/><circle cx="669.8" cy="1921.7" r="7.3"/><circle cx="684.4" cy="1922.2" r="7.3"/><circle cx="698.6" cy="1921.7" r="7.3"/><circle cx="727.8" cy="1922.9" r="7.3"/><circle cx="713.2" cy="1925.6" r="7.3"/><circle cx="641.7" cy="1928.5" r="7.3"/><circle cx="669.8" cy="1935.7" r="7.3"/><circle cx="741.8" cy="1939.0" r="7.3"/><circle cx="684.4" cy="1943.1" r="7.3"/><circle cx="698.6" cy="1943.1" r="7.3"/><circle cx="713.2" cy="1943.1" r="7.3"/><circle cx="655.4" cy="1951.4" r="7.3"/><circle cx="727.8" cy="1952.1" r="7.3"/><circle cx="669.8" cy="1954.3" r="7.3"/><circle cx="641.7" cy="1956.6" r="7.3"/><circle cx="684.4" cy="1961.1" r="7.3"/><circle cx="655.4" cy="1966.3" r="7.3"/><circle cx="727.8" cy="1966.7" r="7.3"/><circle cx="713.2" cy="1967.8" r="7.3"/><circle cx="669.8" cy="1970.1" r="7.3"/><circle cx="698.6" cy="1975.7" r="7.3"/><circle cx="684.4" cy="1979.1" r="7.3"/><circle cx="713.2" cy="1985.8" r="7.3"/><circle cx="691.4" cy="2002.0" r="7.3"/></g>
<g fill="#ff2600" stroke="#000" stroke-width="1.5"><circle cx="863.7" cy="1704.1" r="7.3"/><circle cx="846.8" cy="1736.2" r="7.3"/><circle cx="863.7" cy="1736.2" r="7.3"/><circle cx="829.9" cy="1747.5" r="7.3"/><circle cx="880.1" cy="1747.5" r="7.3"/><circle cx="896.5" cy="1747.5" r="7.3"/><circle cx="813.7" cy="1758.0" r="7.3"/><circle cx="846.8" cy="1759.8" r="7.3"/><circle cx="863.7" cy="1758.7" r="7.3"/><circle cx="913.8" cy="1757.6" r="7.3"/><circle cx="829.9" cy="1787.5" r="7.3"/><circle cx="846.8" cy="1792.4" r="7.3"/><circle cx="863.7" cy="1791.8" r="7.3"/><circle cx="896.5" cy="1792.4" r="7.3"/><circle cx="880.1" cy="1802.6" r="7.3"/><circle cx="846.8" cy="1821.0" r="7.3"/><circle cx="880.1" cy="1821.0" r="7.3"/><circle cx="829.9" cy="1834.7" r="7.3"/><circle cx="863.7" cy="1835.2" r="7.3"/><circle cx="913.8" cy="1834.0" r="7.3"/><circle cx="846.8" cy="1845.7" r="7.3"/><circle cx="880.1" cy="1847.1" r="7.3"/><circle cx="896.5" cy="1846.4" r="7.3"/><circle cx="863.7" cy="1853.1" r="7.3"/><circle cx="880.1" cy="1875.6" r="7.3"/><circle cx="863.7" cy="1882.4" r="7.3"/><circle cx="846.8" cy="1895.4" r="7.3"/><circle cx="880.1" cy="1895.4" r="7.3"/><circle cx="829.9" cy="1909.8" r="7.3"/><circle cx="863.7" cy="1909.4" r="7.3"/><circle cx="846.8" cy="1918.8" r="7.3"/><circle cx="829.9" cy="1926.7" r="7.3"/><circle cx="880.1" cy="1926.7" r="7.3"/><circle cx="896.5" cy="1926.2" r="7.3"/><circle cx="863.7" cy="1934.1" r="7.3"/><circle cx="846.8" cy="1940.4" r="7.3"/><circle cx="880.1" cy="1942.0" r="7.3"/><circle cx="863.7" cy="1953.9" r="7.3"/><circle cx="846.8" cy="1967.2" r="7.3"/><circle cx="880.1" cy="1964.9" r="7.3"/><circle cx="863.7" cy="1508.6" r="7.3"/><circle cx="863.7" cy="1547.1" r="7.3"/><circle cx="871.7" cy="1581.7" r="7.3"/><circle cx="854.9" cy="1593.6" r="7.3"/></g>
<g fill="#120a08" stroke="#000" stroke-width="1.5"><circle cx="1035.7" cy="1409.2" r="7.3"/><circle cx="1060.0" cy="1430.6" r="7.3"/><circle cx="1035.7" cy="1436.2" r="7.3"/><circle cx="1023.3" cy="1490.6" r="7.3"/><circle cx="1048.0" cy="1490.6" r="7.3"/><circle cx="1048.0" cy="1511.5" r="7.3"/><circle cx="1023.3" cy="1523.2" r="7.3"/><circle cx="1023.3" cy="1547.5" r="7.3"/><circle cx="1048.0" cy="1553.1" r="7.3"/><circle cx="1035.7" cy="1584.2" r="7.3"/><circle cx="1010.9" cy="1611.2" r="7.3"/><circle cx="1035.7" cy="1621.7" r="7.3"/><circle cx="1060.0" cy="1625.6" r="7.3"/><circle cx="1085.8" cy="1635.9" r="7.3"/><circle cx="1010.9" cy="1642.0" r="7.3"/><circle cx="1060.0" cy="1645.3" r="7.3"/><circle cx="1035.7" cy="1651.4" r="7.3"/><circle cx="1035.7" cy="1673.5" r="7.3"/><circle cx="985.8" cy="1679.1" r="7.3"/><circle cx="1060.0" cy="1677.9" r="7.3"/><circle cx="1085.8" cy="1680.9" r="7.3"/><circle cx="1010.9" cy="1686.3" r="7.3"/><circle cx="1035.7" cy="1692.6" r="7.3"/><circle cx="985.8" cy="1697.1" r="7.3"/><circle cx="1085.8" cy="1698.2" r="7.3"/><circle cx="1010.9" cy="1703.8" r="7.3"/><circle cx="1060.0" cy="1708.8" r="7.3"/><circle cx="1035.7" cy="1716.2" r="7.3"/><circle cx="1035.7" cy="1738.0" r="7.3"/><circle cx="1060.0" cy="1758.3" r="7.3"/><circle cx="1010.9" cy="1765.4" r="7.3"/><circle cx="1035.7" cy="1767.7" r="7.3"/><circle cx="985.8" cy="1769.9" r="7.3"/><circle cx="1085.8" cy="1769.9" r="7.3"/><circle cx="1060.0" cy="1778.9" r="7.3"/><circle cx="1035.7" cy="1792.4" r="7.3"/><circle cx="1060.0" cy="1812.0" r="7.3"/><circle cx="1035.7" cy="1824.6" r="7.3"/><circle cx="1035.7" cy="1851.3" r="7.3"/><circle cx="1010.9" cy="1857.2" r="7.3"/><circle cx="1060.0" cy="1869.3" r="7.3"/><circle cx="1035.7" cy="1873.8" r="7.3"/><circle cx="1060.0" cy="1888.0" r="7.3"/><circle cx="1035.7" cy="1890.3" r="7.3"/><circle cx="1010.9" cy="1898.1" r="7.3"/><circle cx="1060.0" cy="1903.7" r="7.3"/><circle cx="1047.6" cy="1919.9" r="7.3"/><circle cx="1023.3" cy="1925.8" r="7.3"/></g>
<line x1="405.70" y1="1342.75" x2="405.70" y2="2095.75" stroke="#000" stroke-width="7.5" />
<line x1="374.00" y1="2092.00" x2="1150.50" y2="2092.00" stroke="#000" stroke-width="7.5" />
<line x1="374.00" y1="1843.70" x2="405.70" y2="1843.70" stroke="#000" stroke-width="6.5" />
<line x1="374.00" y1="1595.00" x2="405.70" y2="1595.00" stroke="#000" stroke-width="6.5" />
<line x1="374.00" y1="1346.50" x2="405.70" y2="1346.50" stroke="#000" stroke-width="6.5" />
<text transform="translate(331.56,1366.45) scale(1.0482,1)" font-family="'Liberation Sans', sans-serif" font-weight="bold" font-size="54.93" fill="#000" xml:space="preserve" >3</text>
<text transform="translate(331.26,1614.00) scale(1.0714,1)" font-family="'Liberation Sans', sans-serif" font-weight="bold" font-size="54.29" fill="#000" xml:space="preserve" >2</text>
<text transform="translate(333.77,1861.50) scale(0.6673,1)" font-family="'Liberation Sans', sans-serif" font-weight="bold" font-size="55.80" fill="#000" xml:space="preserve" >1</text>
<text transform="translate(330.99,2111.42) scale(0.9552,1)" font-family="'Liberation Sans', sans-serif" font-weight="bold" font-size="57.75" fill="#000" xml:space="preserve" >0</text>
<text transform="translate(222.27,1941.51) rotate(-90) scale(0.9948,1)" font-family="'Liberation Sans', sans-serif" font-weight="bold" font-size="60.64" fill="#000" xml:space="preserve" >Cytosolic TFEB</text>
<text transform="translate(297.36,1982.28) rotate(-90) scale(0.9536,1)" font-family="'Liberation Sans', sans-serif" font-weight="bold" font-size="62.57" fill="#000" xml:space="preserve" >(relative to control)</text>
<line x1="627.80" y1="1282.00" x2="1039.00" y2="1282.00" stroke="#000" stroke-width="4" />
<text transform="translate(785.24,1270.07) scale(0.9156,1)" font-family="'DejaVu Sans', 'Liberation Sans', sans-serif" font-weight="bold" font-size="68.82" fill="#000" xml:space="preserve" stroke="#000" stroke-width="1.8" stroke-linejoin="round">***</text>
<line x1="629.40" y1="1396.50" x2="865.00" y2="1396.50" stroke="#000" stroke-width="4" />
<text transform="translate(698.54,1384.59) scale(0.9242,1)" font-family="'DejaVu Sans', 'Liberation Sans', sans-serif" font-weight="bold" font-size="68.17" fill="#000" xml:space="preserve" stroke="#000" stroke-width="1.8" stroke-linejoin="round">***</text>
<line x1="515.00" y1="1508.00" x2="683.70" y2="1508.00" stroke="#000" stroke-width="4" />
<text transform="translate(567.05,1496.59) scale(0.9181,1)" font-family="'DejaVu Sans', 'Liberation Sans', sans-serif" font-weight="bold" font-size="68.17" fill="#000" xml:space="preserve" stroke="#000" stroke-width="1.8" stroke-linejoin="round">**</text>
<text transform="translate(505.38,2190.05) scale(1.1329,1)" font-family="'Liberation Sans', sans-serif" font-weight="bold" font-size="82.50" fill="#000" xml:space="preserve" stroke="#000" stroke-width="1.7" stroke-linejoin="round">-</text>
<text transform="translate(666.62,2194.27) scale(0.9984,1)" font-family="'Liberation Sans', sans-serif" font-weight="bold" font-size="85.88" fill="#000" xml:space="preserve" stroke="#000" stroke-width="1.7" stroke-linejoin="round">+</text>
<text transform="translate(848.08,2190.05) scale(1.1329,1)" font-family="'Liberation Sans', sans-serif" font-weight="bold" font-size="82.50" fill="#000" xml:space="preserve" stroke="#000" stroke-width="1.7" stroke-linejoin="round">-</text>
<text transform="translate(1019.92,2194.27) scale(0.9984,1)" font-family="'Liberation Sans', sans-serif" font-weight="bold" font-size="85.88" fill="#000" xml:space="preserve" stroke="#000" stroke-width="1.7" stroke-linejoin="round">+</text>
<text transform="translate(505.38,2348.55) scale(1.1329,1)" font-family="'Liberation Sans', sans-serif" font-weight="bold" font-size="82.50" fill="#000" xml:space="preserve" stroke="#000" stroke-width="1.7" stroke-linejoin="round">-</text>
<text transform="translate(675.38,2348.55) scale(1.1329,1)" font-family="'Liberation Sans', sans-serif" font-weight="bold" font-size="82.50" fill="#000" xml:space="preserve" stroke="#000" stroke-width="1.7" stroke-linejoin="round">-</text>
<text transform="translate(846.42,2352.77) scale(0.9984,1)" font-family="'Liberation Sans', sans-serif" font-weight="bold" font-size="85.88" fill="#000" xml:space="preserve" stroke="#000" stroke-width="1.7" stroke-linejoin="round">+</text>
<text transform="translate(1019.92,2352.77) scale(0.9984,1)" font-family="'Liberation Sans', sans-serif" font-weight="bold" font-size="85.88" fill="#000" xml:space="preserve" stroke="#000" stroke-width="1.7" stroke-linejoin="round">+</text></g>
<g id="chart-CR"><rect x="1483.50" y="1844.00" width="112.50" height="247.50" fill="#fff" stroke="#000" stroke-width="3.6"/>
<rect x="1657.50" y="1878.50" width="111.50" height="213.00" fill="#fff" stroke="#000" stroke-width="3.6"/>
<rect x="1830.00" y="1841.00" width="112.00" height="250.50" fill="#fff" stroke="#000" stroke-width="3.6"/>
<rect x="2004.00" y="1720.00" width="111.50" height="371.50" fill="#fff" stroke="#000" stroke-width="3.6"/>
<line x1="1430.00" y1="1842.50" x2="2169.50" y2="1842.50" stroke="#000" stroke-width="3" stroke-dasharray="11.5 5.2"/>
<line x1="1540.00" y1="1732.50" x2="1540.00" y2="1951.50" stroke="#000" stroke-width="3.2" />
<line x1="1510.50" y1="1732.50" x2="1569.50" y2="1732.50" stroke="#000" stroke-width="3.2" />
<line x1="1510.50" y1="1951.50" x2="1569.50" y2="1951.50" stroke="#000" stroke-width="3.2" />
<line x1="1712.50" y1="1801.00" x2="1712.50" y2="1952.50" stroke="#000" stroke-width="3.2" />
<line x1="1683.00" y1="1801.00" x2="1742.00" y2="1801.00" stroke="#000" stroke-width="3.2" />
<line x1="1683.00" y1="1952.50" x2="1742.00" y2="1952.50" stroke="#000" stroke-width="3.2" />
<line x1="1885.50" y1="1746.00" x2="1885.50" y2="1931.50" stroke="#000" stroke-width="3.2" />
<line x1="1856.00" y1="1746.00" x2="1915.00" y2="1746.00" stroke="#000" stroke-width="3.2" />
<line x1="1856.00" y1="1931.50" x2="1915.00" y2="1931.50" stroke="#000" stroke-width="3.2" />
<line x1="2059.00" y1="1614.50" x2="2059.00" y2="1822.50" stroke="#000" stroke-width="3.2" />
<line x1="2029.50" y1="1614.50" x2="2088.50" y2="1614.50" stroke="#000" stroke-width="3.2" />
<line x1="2029.50" y1="1822.50" x2="2088.50" y2="1822.50" stroke="#000" stroke-width="3.2" />
<g fill="#fff" stroke="#000" stroke-width="1.5"><circle cx="1522.5" cy="1685.6" r="7.3"/><circle cx="1539.2" cy="1690.1" r="7.3"/><circle cx="1556.0" cy="1686.1" r="7.3"/><circle cx="1522.5" cy="1720.9" r="7.3"/><circle cx="1539.2" cy="1726.5" r="7.3"/><circle cx="1556.0" cy="1739.6" r="7.3"/><circle cx="1539.2" cy="1743.0" r="7.3"/><circle cx="1522.5" cy="1749.3" r="7.3"/><circle cx="1556.0" cy="1768.1" r="7.3"/><circle cx="1522.5" cy="1778.9" r="7.3"/><circle cx="1539.2" cy="1785.7" r="7.3"/><circle cx="1522.5" cy="1795.1" r="7.3"/><circle cx="1556.0" cy="1792.9" r="7.3"/><circle cx="1522.5" cy="1812.7" r="7.3"/><circle cx="1556.0" cy="1823.9" r="7.3"/><circle cx="1505.6" cy="1828.4" r="7.3"/><circle cx="1522.5" cy="1832.2" r="7.3"/><circle cx="1539.2" cy="1832.9" r="7.3"/><circle cx="1556.0" cy="1841.5" r="7.3"/><circle cx="1539.2" cy="1853.1" r="7.3"/><circle cx="1522.5" cy="1858.8" r="7.3"/><circle cx="1556.0" cy="1867.8" r="7.3"/><circle cx="1539.2" cy="1870.7" r="7.3"/><circle cx="1522.5" cy="1886.9" r="7.3"/><circle cx="1505.6" cy="1899.7" r="7.3"/><circle cx="1590.0" cy="1896.3" r="7.3"/><circle cx="1572.9" cy="1898.6" r="7.3"/><circle cx="1539.2" cy="1904.2" r="7.3"/><circle cx="1556.0" cy="1904.2" r="7.3"/><circle cx="1489.2" cy="1913.9" r="7.3"/><circle cx="1590.0" cy="1911.6" r="7.3"/><circle cx="1572.9" cy="1918.8" r="7.3"/><circle cx="1505.6" cy="1921.7" r="7.3"/><circle cx="1522.5" cy="1921.7" r="7.3"/><circle cx="1539.2" cy="1925.1" r="7.3"/><circle cx="1556.0" cy="1924.4" r="7.3"/><circle cx="1556.0" cy="1942.0" r="7.3"/><circle cx="1505.6" cy="1946.5" r="7.3"/><circle cx="1522.5" cy="1958.8" r="7.3"/><circle cx="1539.2" cy="1956.6" r="7.3"/><circle cx="1556.0" cy="1959.5" r="7.3"/><circle cx="1556.0" cy="1986.9" r="7.3"/><circle cx="1539.2" cy="1998.2" r="7.3"/><circle cx="1556.0" cy="2002.0" r="7.3"/><circle cx="1522.5" cy="2008.8" r="7.3"/><circle cx="1539.4" cy="1535.6" r="7.3"/><circle cx="1539.4" cy="1592.5" r="7.3"/><circle cx="1539.4" cy="1646.0" r="7.3"/></g>
<g fill="#0530e2" stroke="#000" stroke-width="1.5"><circle cx="1712.3" cy="1701.8" r="7.3"/><circle cx="1734.3" cy="1772.9" r="7.3"/><circle cx="1705.6" cy="1781.2" r="7.3"/><circle cx="1719.7" cy="1786.4" r="7.3"/><circle cx="1705.6" cy="1797.4" r="7.3"/><circle cx="1719.7" cy="1805.3" r="7.3"/><circle cx="1734.3" cy="1809.3" r="7.3"/><circle cx="1676.5" cy="1826.8" r="7.3"/><circle cx="1705.6" cy="1827.3" r="7.3"/><circle cx="1749.0" cy="1826.2" r="7.3"/><circle cx="1763.6" cy="1827.3" r="7.3"/><circle cx="1662.4" cy="1833.6" r="7.3"/><circle cx="1690.9" cy="1839.7" r="7.3"/><circle cx="1734.3" cy="1836.7" r="7.3"/><circle cx="1749.0" cy="1845.3" r="7.3"/><circle cx="1705.6" cy="1848.7" r="7.3"/><circle cx="1676.5" cy="1856.5" r="7.3"/><circle cx="1734.3" cy="1854.3" r="7.3"/><circle cx="1719.7" cy="1857.6" r="7.3"/><circle cx="1662.4" cy="1864.4" r="7.3"/><circle cx="1690.9" cy="1862.1" r="7.3"/><circle cx="1705.6" cy="1863.9" r="7.3"/><circle cx="1749.0" cy="1866.6" r="7.3"/><circle cx="1734.3" cy="1869.6" r="7.3"/><circle cx="1763.6" cy="1870.5" r="7.3"/><circle cx="1719.7" cy="1874.5" r="7.3"/><circle cx="1705.6" cy="1880.8" r="7.3"/><circle cx="1719.7" cy="1892.5" r="7.3"/><circle cx="1719.7" cy="1912.7" r="7.3"/><circle cx="1705.6" cy="1918.4" r="7.3"/><circle cx="1734.3" cy="1920.6" r="7.3"/><circle cx="1749.0" cy="1922.4" r="7.3"/><circle cx="1690.9" cy="1924.7" r="7.3"/><circle cx="1719.7" cy="1927.4" r="7.3"/><circle cx="1676.5" cy="1938.6" r="7.3"/><circle cx="1705.6" cy="1946.9" r="7.3"/><circle cx="1719.7" cy="1946.5" r="7.3"/><circle cx="1690.9" cy="1949.8" r="7.3"/><circle cx="1734.3" cy="1948.0" r="7.3"/><circle cx="1690.9" cy="1965.1" r="7.3"/><circle cx="1719.7" cy="1966.7" r="7.3"/><circle cx="1676.5" cy="1972.3" r="7.3"/><circle cx="1705.6" cy="1974.6" r="7.3"/><circle cx="1734.3" cy="1974.1" r="7.3"/><circle cx="1749.0" cy="1974.6" r="7.3"/><circle cx="1705.6" cy="1990.3" r="7.3"/><circle cx="1719.7" cy="1988.5" r="7.3"/><circle cx="1712.3" cy="1635.7" r="7.3"/></g>
<g fill="#ff2600" stroke="#000" stroke-width="1.5"><circle cx="1886.0" cy="1711.9" r="7.3"/><circle cx="1852.3" cy="1739.6" r="7.3"/><circle cx="1868.9" cy="1738.9" r="7.3"/><circle cx="1868.9" cy="1755.3" r="7.3"/><circle cx="1886.0" cy="1753.1" r="7.3"/><circle cx="1919.5" cy="1761.0" r="7.3"/><circle cx="1852.3" cy="1763.7" r="7.3"/><circle cx="1868.9" cy="1770.4" r="7.3"/><circle cx="1886.0" cy="1781.9" r="7.3"/><circle cx="1919.5" cy="1789.1" r="7.3"/><circle cx="1852.3" cy="1792.4" r="7.3"/><circle cx="1868.9" cy="1798.1" r="7.3"/><circle cx="1886.0" cy="1801.4" r="7.3"/><circle cx="1902.2" cy="1808.6" r="7.3"/><circle cx="1852.3" cy="1811.1" r="7.3"/><circle cx="1886.0" cy="1817.6" r="7.3"/><circle cx="1868.9" cy="1824.6" r="7.3"/><circle cx="1886.0" cy="1837.4" r="7.3"/><circle cx="1919.5" cy="1838.1" r="7.3"/><circle cx="1868.9" cy="1846.4" r="7.3"/><circle cx="1902.2" cy="1847.5" r="7.3"/><circle cx="1919.5" cy="1854.3" r="7.3"/><circle cx="1852.3" cy="1859.9" r="7.3"/><circle cx="1902.2" cy="1864.4" r="7.3"/><circle cx="1868.9" cy="1867.3" r="7.3"/><circle cx="1936.4" cy="1866.0" r="7.3"/><circle cx="1886.0" cy="1870.0" r="7.3"/><circle cx="1919.5" cy="1871.1" r="7.3"/><circle cx="1852.3" cy="1878.3" r="7.3"/><circle cx="1902.2" cy="1879.0" r="7.3"/><circle cx="1886.0" cy="1887.3" r="7.3"/><circle cx="1868.9" cy="1892.1" r="7.3"/><circle cx="1919.5" cy="1890.3" r="7.3"/><circle cx="1902.2" cy="1895.9" r="7.3"/><circle cx="1886.0" cy="1906.0" r="7.3"/><circle cx="1868.9" cy="1927.4" r="7.3"/><circle cx="1902.2" cy="1924.0" r="7.3"/><circle cx="1886.0" cy="1933.0" r="7.3"/><circle cx="1902.2" cy="1942.0" r="7.3"/><circle cx="1868.9" cy="1948.3" r="7.3"/><circle cx="1886.0" cy="1948.0" r="7.3"/><circle cx="1868.9" cy="1976.4" r="7.3"/><circle cx="1886.0" cy="1980.2" r="7.3"/><circle cx="1902.2" cy="1983.6" r="7.3"/><circle cx="1868.9" cy="1991.4" r="7.3"/><circle cx="1886.0" cy="1564.4" r="7.3"/><circle cx="1886.0" cy="1622.2" r="7.3"/><circle cx="1886.0" cy="1655.5" r="7.3"/></g>
<g fill="#120a08" stroke="#000" stroke-width="1.5"><circle cx="2022.9" cy="1714.9" r="7.3"/><circle cx="2094.9" cy="1716.0" r="7.3"/><circle cx="2037.1" cy="1720.5" r="7.3"/><circle cx="2065.7" cy="1726.1" r="7.3"/><circle cx="2080.5" cy="1729.5" r="7.3"/><circle cx="2008.6" cy="1734.0" r="7.3"/><circle cx="2022.9" cy="1733.3" r="7.3"/><circle cx="2109.1" cy="1731.7" r="7.3"/><circle cx="2037.1" cy="1736.2" r="7.3"/><circle cx="2051.7" cy="1735.5" r="7.3"/><circle cx="2065.7" cy="1741.8" r="7.3"/><circle cx="2022.9" cy="1748.6" r="7.3"/><circle cx="2080.5" cy="1746.3" r="7.3"/><circle cx="2094.9" cy="1746.8" r="7.3"/><circle cx="2037.1" cy="1756.5" r="7.3"/><circle cx="2051.7" cy="1762.1" r="7.3"/><circle cx="2065.7" cy="1772.9" r="7.3"/><circle cx="2080.5" cy="1776.7" r="7.3"/><circle cx="2037.1" cy="1783.4" r="7.3"/><circle cx="2051.7" cy="1780.5" r="7.3"/><circle cx="2065.7" cy="1790.2" r="7.3"/><circle cx="2080.5" cy="1795.8" r="7.3"/><circle cx="2051.7" cy="1798.1" r="7.3"/><circle cx="2065.7" cy="1804.8" r="7.3"/><circle cx="2051.7" cy="1813.8" r="7.3"/><circle cx="2065.7" cy="1846.9" r="7.3"/><circle cx="2051.7" cy="1852.7" r="7.3"/><circle cx="2065.7" cy="1865.5" r="7.3"/><circle cx="2051.7" cy="1871.1" r="7.3"/><circle cx="2058.5" cy="1890.9" r="7.3"/><circle cx="2058.5" cy="1960.4" r="7.3"/><circle cx="2058.5" cy="1453.8" r="7.3"/><circle cx="2058.5" cy="1495.1" r="7.3"/><circle cx="2051.7" cy="1529.1" r="7.3"/><circle cx="2066.3" cy="1538.1" r="7.3"/><circle cx="2051.7" cy="1578.3" r="7.3"/><circle cx="2066.3" cy="1591.8" r="7.3"/><circle cx="2058.5" cy="1610.5" r="7.3"/><circle cx="2066.3" cy="1625.1" r="7.3"/><circle cx="2051.7" cy="1629.6" r="7.3"/><circle cx="2080.5" cy="1635.9" r="7.3"/><circle cx="2066.3" cy="1642.0" r="7.3"/><circle cx="2022.9" cy="1657.0" r="7.3"/><circle cx="2080.5" cy="1655.5" r="7.3"/><circle cx="2094.9" cy="1655.5" r="7.3"/><circle cx="2037.1" cy="1666.7" r="7.3"/><circle cx="2066.3" cy="1662.9" r="7.3"/><circle cx="2066.3" cy="1678.4" r="7.3"/></g>
<line x1="1425.70" y1="1338.75" x2="1425.70" y2="2095.25" stroke="#000" stroke-width="7.5" />
<line x1="1394.00" y1="2091.50" x2="2175.50" y2="2091.50" stroke="#000" stroke-width="7.5" />
<line x1="1394.00" y1="1842.50" x2="1425.70" y2="1842.50" stroke="#000" stroke-width="6.5" />
<line x1="1394.00" y1="1591.00" x2="1425.70" y2="1591.00" stroke="#000" stroke-width="6.5" />
<line x1="1394.00" y1="1342.50" x2="1425.70" y2="1342.50" stroke="#000" stroke-width="6.5" />
<text transform="translate(1349.92,1361.94) scale(0.9913,1)" font-family="'Liberation Sans', sans-serif" font-weight="bold" font-size="55.63" fill="#000" xml:space="preserve" >3</text>
<text transform="translate(1349.63,1609.50) scale(1.0263,1)" font-family="'Liberation Sans', sans-serif" font-weight="bold" font-size="54.29" fill="#000" xml:space="preserve" >2</text>
<text transform="translate(1351.77,1861.00) scale(0.6761,1)" font-family="'Liberation Sans', sans-serif" font-weight="bold" font-size="55.07" fill="#000" xml:space="preserve" >1</text>
<text transform="translate(1349.00,2110.44) scale(1.0331,1)" font-family="'Liberation Sans', sans-serif" font-weight="bold" font-size="55.63" fill="#000" xml:space="preserve" >0</text>
<text transform="translate(1242.47,1914.88) rotate(-90) scale(0.9774,1)" font-family="'Liberation Sans', sans-serif" font-weight="bold" font-size="62.72" fill="#000" xml:space="preserve" >Nuclear TFEB</text>
<text transform="translate(1316.75,1981.28) rotate(-90) scale(0.9438,1)" font-family="'Liberation Sans', sans-serif" font-weight="bold" font-size="63.10" fill="#000" xml:space="preserve" >(relative to control)</text>
<line x1="1701.00" y1="1350.00" x2="2060.50" y2="1350.00" stroke="#000" stroke-width="4" />
<text transform="translate(1831.55,1337.70) scale(0.9697,1)" font-family="'DejaVu Sans', 'Liberation Sans', sans-serif" font-weight="bold" font-size="64.30" fill="#000" xml:space="preserve" stroke="#000" stroke-width="1.8" stroke-linejoin="round">***</text>
<line x1="1532.50" y1="1462.50" x2="1701.00" y2="1462.50" stroke="#000" stroke-width="4" />
<text transform="translate(1590.87,1429.01) scale(0.9812,1)" font-family="'Liberation Sans', sans-serif" font-weight="normal" font-size="49.09" fill="#000" xml:space="preserve" >ns</text>
<line x1="1726.00" y1="1462.50" x2="1885.00" y2="1462.50" stroke="#000" stroke-width="4" />
<text transform="translate(1779.87,1429.01) scale(0.9812,1)" font-family="'Liberation Sans', sans-serif" font-weight="normal" font-size="49.09" fill="#000" xml:space="preserve" >ns</text>
<text transform="translate(1538.58,2192.45) scale(1.1329,1)" font-family="'Liberation Sans', sans-serif" font-weight="bold" font-size="82.50" fill="#000" xml:space="preserve" stroke="#000" stroke-width="1.7" stroke-linejoin="round">-</text>
<text transform="translate(1696.42,2197.27) scale(0.9984,1)" font-family="'Liberation Sans', sans-serif" font-weight="bold" font-size="85.88" fill="#000" xml:space="preserve" stroke="#000" stroke-width="1.7" stroke-linejoin="round">+</text>
<text transform="translate(1888.08,2192.45) scale(1.1329,1)" font-family="'Liberation Sans', sans-serif" font-weight="bold" font-size="82.50" fill="#000" xml:space="preserve" stroke="#000" stroke-width="1.7" stroke-linejoin="round">-</text>
<text transform="translate(2056.92,2197.27) scale(0.9984,1)" font-family="'Liberation Sans', sans-serif" font-weight="bold" font-size="85.88" fill="#000" xml:space="preserve" stroke="#000" stroke-width="1.7" stroke-linejoin="round">+</text>
<text transform="translate(1538.58,2338.95) scale(1.1329,1)" font-family="'Liberation Sans', sans-serif" font-weight="bold" font-size="82.50" fill="#000" xml:space="preserve" stroke="#000" stroke-width="1.7" stroke-linejoin="round">-</text>
<text transform="translate(1718.08,2338.95) scale(1.1329,1)" font-family="'Liberation Sans', sans-serif" font-weight="bold" font-size="82.50" fill="#000" xml:space="preserve" stroke="#000" stroke-width="1.7" stroke-linejoin="round">-</text>
<text transform="translate(1877.22,2343.77) scale(0.9984,1)" font-family="'Liberation Sans', sans-serif" font-weight="bold" font-size="85.88" fill="#000" xml:space="preserve" stroke="#000" stroke-width="1.7" stroke-linejoin="round">+</text>
<text transform="translate(2056.92,2343.77) scale(0.9984,1)" font-family="'Liberation Sans', sans-serif" font-weight="bold" font-size="85.88" fill="#000" xml:space="preserve" stroke="#000" stroke-width="1.7" stroke-linejoin="round">+</text></g>
<g id="chart-DL"><rect x="460.00" y="3212.50" width="115.00" height="238.50" fill="#fff" stroke="#000" stroke-width="3.6"/>
<rect x="636.00" y="3193.50" width="112.50" height="257.50" fill="#fff" stroke="#000" stroke-width="3.6"/>
<rect x="811.00" y="3163.50" width="114.00" height="287.50" fill="#fff" stroke="#000" stroke-width="3.6"/>
<rect x="986.50" y="3214.00" width="113.50" height="237.00" fill="#fff" stroke="#000" stroke-width="3.6"/>
<line x1="404.00" y1="3210.00" x2="1155.00" y2="3210.00" stroke="#000" stroke-width="3" stroke-dasharray="11.5 5.2"/>
<line x1="517.50" y1="3107.50" x2="517.50" y2="3312.50" stroke="#000" stroke-width="3.2" />
<line x1="488.00" y1="3107.50" x2="547.00" y2="3107.50" stroke="#000" stroke-width="3.2" />
<line x1="488.00" y1="3312.50" x2="547.00" y2="3312.50" stroke="#000" stroke-width="3.2" />
<line x1="692.00" y1="3066.00" x2="692.00" y2="3317.50" stroke="#000" stroke-width="3.2" />
<line x1="662.50" y1="3066.00" x2="721.50" y2="3066.00" stroke="#000" stroke-width="3.2" />
<line x1="662.50" y1="3317.50" x2="721.50" y2="3317.50" stroke="#000" stroke-width="3.2" />
<line x1="867.50" y1="3076.00" x2="867.50" y2="3248.50" stroke="#000" stroke-width="3.2" />
<line x1="838.00" y1="3076.00" x2="897.00" y2="3076.00" stroke="#000" stroke-width="3.2" />
<line x1="838.00" y1="3248.50" x2="897.00" y2="3248.50" stroke="#000" stroke-width="3.2" />
<line x1="1042.50" y1="3136.50" x2="1042.50" y2="3287.50" stroke="#000" stroke-width="3.2" />
<line x1="1013.00" y1="3136.50" x2="1072.00" y2="3136.50" stroke="#000" stroke-width="3.2" />
<line x1="1013.00" y1="3287.50" x2="1072.00" y2="3287.50" stroke="#000" stroke-width="3.2" />
<g fill="#fff" stroke="#000" stroke-width="1.5"><circle cx="516.5" cy="3132.6" r="7.7"/><circle cx="491.3" cy="3139.8" r="7.7"/><circle cx="542.3" cy="3139.8" r="7.7"/><circle cx="465.9" cy="3144.3" r="7.7"/><circle cx="567.5" cy="3145.9" r="7.7"/><circle cx="516.5" cy="3154.0" r="7.7"/><circle cx="491.3" cy="3160.1" r="7.7"/><circle cx="542.3" cy="3158.9" r="7.7"/><circle cx="516.5" cy="3169.1" r="7.7"/><circle cx="542.3" cy="3183.2" r="7.7"/><circle cx="516.5" cy="3187.1" r="7.7"/><circle cx="491.3" cy="3192.7" r="7.7"/><circle cx="542.3" cy="3201.0" r="7.7"/><circle cx="567.5" cy="3203.2" r="7.7"/><circle cx="465.9" cy="3210.0" r="7.7"/><circle cx="491.3" cy="3211.1" r="7.7"/><circle cx="567.5" cy="3218.5" r="7.7"/><circle cx="516.5" cy="3224.2" r="7.7"/><circle cx="491.3" cy="3226.4" r="7.7"/><circle cx="542.3" cy="3230.4" r="7.7"/><circle cx="516.5" cy="3239.9" r="7.7"/><circle cx="465.9" cy="3243.7" r="7.7"/><circle cx="542.3" cy="3247.3" r="7.7"/><circle cx="516.5" cy="3255.0" r="7.7"/><circle cx="542.3" cy="3270.7" r="7.7"/><circle cx="516.5" cy="3276.3" r="7.7"/><circle cx="491.3" cy="3289.8" r="7.7"/><circle cx="516.5" cy="3302.2" r="7.7"/><circle cx="504.1" cy="3345.1" r="7.7"/><circle cx="529.5" cy="3344.5" r="7.7"/><circle cx="516.5" cy="3366.3" r="7.7"/><circle cx="491.3" cy="3383.1" r="7.7"/><circle cx="516.5" cy="3381.1" r="7.7"/><circle cx="542.3" cy="3382.2" r="7.7"/><circle cx="516.5" cy="2935.4" r="7.7"/><circle cx="516.5" cy="2997.2" r="7.7"/><circle cx="542.3" cy="3045.6" r="7.7"/><circle cx="516.5" cy="3059.7" r="7.7"/></g>
<g fill="#0530e2" stroke="#000" stroke-width="1.5"><circle cx="679.5" cy="3079.1" r="7.7"/><circle cx="692.3" cy="3075.3" r="7.7"/><circle cx="705.3" cy="3078.0" r="7.7"/><circle cx="686.2" cy="3093.7" r="7.7"/><circle cx="699.0" cy="3100.0" r="7.7"/><circle cx="679.5" cy="3126.3" r="7.7"/><circle cx="692.3" cy="3136.5" r="7.7"/><circle cx="705.3" cy="3140.3" r="7.7"/><circle cx="666.7" cy="3142.1" r="7.7"/><circle cx="679.5" cy="3150.4" r="7.7"/><circle cx="730.8" cy="3161.2" r="7.7"/><circle cx="717.7" cy="3165.2" r="7.7"/><circle cx="692.3" cy="3168.6" r="7.7"/><circle cx="705.3" cy="3171.8" r="7.7"/><circle cx="641.7" cy="3175.8" r="7.7"/><circle cx="666.7" cy="3176.9" r="7.7"/><circle cx="679.5" cy="3175.8" r="7.7"/><circle cx="717.7" cy="3179.2" r="7.7"/><circle cx="730.8" cy="3178.1" r="7.7"/><circle cx="743.6" cy="3181.9" r="7.7"/><circle cx="654.1" cy="3185.3" r="7.7"/><circle cx="692.3" cy="3185.3" r="7.7"/><circle cx="679.5" cy="3190.4" r="7.7"/><circle cx="705.3" cy="3189.3" r="7.7"/><circle cx="692.3" cy="3210.0" r="7.7"/><circle cx="679.5" cy="3226.4" r="7.7"/><circle cx="692.3" cy="3232.7" r="7.7"/><circle cx="705.3" cy="3234.3" r="7.7"/><circle cx="679.5" cy="3241.5" r="7.7"/><circle cx="692.3" cy="3279.2" r="7.7"/><circle cx="679.5" cy="3304.0" r="7.7"/><circle cx="705.3" cy="3301.7" r="7.7"/><circle cx="654.1" cy="3309.6" r="7.7"/><circle cx="730.8" cy="3309.6" r="7.7"/><circle cx="717.7" cy="3314.1" r="7.7"/><circle cx="666.7" cy="3321.3" r="7.7"/><circle cx="654.1" cy="3323.5" r="7.7"/><circle cx="743.6" cy="3320.8" r="7.7"/><circle cx="705.3" cy="3324.2" r="7.7"/><circle cx="730.8" cy="3326.5" r="7.7"/><circle cx="641.7" cy="3331.0" r="7.7"/><circle cx="692.3" cy="3333.7" r="7.7"/><circle cx="717.7" cy="3333.2" r="7.7"/><circle cx="679.5" cy="3340.0" r="7.7"/><circle cx="666.7" cy="3342.2" r="7.7"/><circle cx="705.3" cy="3346.7" r="7.7"/><circle cx="730.8" cy="3345.1" r="7.7"/><circle cx="692.3" cy="3351.2" r="7.7"/><circle cx="666.7" cy="3357.5" r="7.7"/><circle cx="717.7" cy="3359.7" r="7.7"/><circle cx="692.3" cy="2835.3" r="7.7"/><circle cx="692.3" cy="2929.8" r="7.7"/><circle cx="705.3" cy="2970.3" r="7.7"/><circle cx="692.3" cy="2978.8" r="7.7"/><circle cx="685.6" cy="3001.7" r="7.7"/><circle cx="699.0" cy="3002.9" r="7.7"/><circle cx="692.3" cy="3029.4" r="7.7"/><circle cx="705.3" cy="3041.1" r="7.7"/><circle cx="692.3" cy="3051.9" r="7.7"/><circle cx="679.5" cy="3055.0" r="7.7"/></g>
<g fill="#ff2600" stroke="#000" stroke-width="1.5"><circle cx="868.0" cy="3029.2" r="7.7"/><circle cx="884.4" cy="3040.5" r="7.7"/><circle cx="868.0" cy="3044.3" r="7.7"/><circle cx="850.7" cy="3053.3" r="7.7"/><circle cx="884.4" cy="3055.5" r="7.7"/><circle cx="868.0" cy="3072.4" r="7.7"/><circle cx="884.4" cy="3078.0" r="7.7"/><circle cx="833.4" cy="3083.2" r="7.7"/><circle cx="884.4" cy="3093.3" r="7.7"/><circle cx="901.3" cy="3097.8" r="7.7"/><circle cx="817.0" cy="3105.0" r="7.7"/><circle cx="868.0" cy="3106.8" r="7.7"/><circle cx="884.4" cy="3108.6" r="7.7"/><circle cx="918.6" cy="3108.6" r="7.7"/><circle cx="901.3" cy="3113.6" r="7.7"/><circle cx="817.0" cy="3121.0" r="7.7"/><circle cx="833.4" cy="3120.3" r="7.7"/><circle cx="868.0" cy="3122.1" r="7.7"/><circle cx="884.4" cy="3127.5" r="7.7"/><circle cx="901.3" cy="3130.4" r="7.7"/><circle cx="817.0" cy="3136.5" r="7.7"/><circle cx="850.7" cy="3141.2" r="7.7"/><circle cx="868.0" cy="3142.1" r="7.7"/><circle cx="833.4" cy="3147.3" r="7.7"/><circle cx="884.4" cy="3146.2" r="7.7"/><circle cx="918.6" cy="3147.7" r="7.7"/><circle cx="850.7" cy="3156.3" r="7.7"/><circle cx="868.0" cy="3157.4" r="7.7"/><circle cx="884.4" cy="3161.9" r="7.7"/><circle cx="817.0" cy="3173.1" r="7.7"/><circle cx="918.6" cy="3176.1" r="7.7"/><circle cx="817.0" cy="3187.3" r="7.7"/><circle cx="833.4" cy="3186.6" r="7.7"/><circle cx="850.7" cy="3183.7" r="7.7"/><circle cx="884.4" cy="3183.3" r="7.7"/><circle cx="901.3" cy="3183.7" r="7.7"/><circle cx="868.0" cy="3193.8" r="7.7"/><circle cx="901.3" cy="3199.5" r="7.7"/><circle cx="884.4" cy="3202.4" r="7.7"/><circle cx="833.4" cy="3205.8" r="7.7"/><circle cx="850.7" cy="3213.6" r="7.7"/><circle cx="901.3" cy="3216.3" r="7.7"/><circle cx="833.4" cy="3223.7" r="7.7"/><circle cx="884.4" cy="3226.0" r="7.7"/><circle cx="850.7" cy="3236.1" r="7.7"/><circle cx="901.3" cy="3236.1" r="7.7"/><circle cx="918.6" cy="3237.2" r="7.7"/><circle cx="833.4" cy="3240.6" r="7.7"/><circle cx="868.0" cy="3245.8" r="7.7"/><circle cx="884.4" cy="3245.1" r="7.7"/><circle cx="817.0" cy="3248.9" r="7.7"/><circle cx="868.0" cy="3264.2" r="7.7"/><circle cx="884.4" cy="3262.4" r="7.7"/><circle cx="868.0" cy="3284.5" r="7.7"/><circle cx="876.6" cy="3303.6" r="7.7"/><circle cx="859.0" cy="3306.9" r="7.7"/><circle cx="868.0" cy="3322.0" r="7.7"/><circle cx="868.0" cy="3352.9" r="7.7"/><circle cx="867.5" cy="2888.5" r="7.7"/><circle cx="867.5" cy="2957.5" r="7.7"/></g>
<g fill="#120a08" stroke="#000" stroke-width="1.5"><circle cx="1033.3" cy="3031.5" r="7.7"/><circle cx="1053.5" cy="3043.4" r="7.7"/><circle cx="1033.3" cy="3071.5" r="7.7"/><circle cx="1053.5" cy="3084.8" r="7.7"/><circle cx="1033.3" cy="3103.0" r="7.7"/><circle cx="1053.5" cy="3111.8" r="7.7"/><circle cx="1073.8" cy="3147.3" r="7.7"/><circle cx="1013.1" cy="3151.8" r="7.7"/><circle cx="1033.3" cy="3152.9" r="7.7"/><circle cx="1013.1" cy="3166.4" r="7.7"/><circle cx="1073.8" cy="3165.3" r="7.7"/><circle cx="1033.3" cy="3169.1" r="7.7"/><circle cx="1053.5" cy="3178.3" r="7.7"/><circle cx="1094.0" cy="3178.3" r="7.7"/><circle cx="992.4" cy="3191.1" r="7.7"/><circle cx="1013.1" cy="3189.6" r="7.7"/><circle cx="1053.5" cy="3192.3" r="7.7"/><circle cx="1073.8" cy="3188.4" r="7.7"/><circle cx="1094.0" cy="3195.2" r="7.7"/><circle cx="1013.1" cy="3205.8" r="7.7"/><circle cx="1033.3" cy="3206.9" r="7.7"/><circle cx="1053.5" cy="3206.9" r="7.7"/><circle cx="1073.8" cy="3215.9" r="7.7"/><circle cx="1094.0" cy="3217.4" r="7.7"/><circle cx="1033.3" cy="3222.6" r="7.7"/><circle cx="1013.1" cy="3228.9" r="7.7"/><circle cx="1053.5" cy="3230.5" r="7.7"/><circle cx="1073.8" cy="3231.6" r="7.7"/><circle cx="1033.3" cy="3239.0" r="7.7"/><circle cx="1053.5" cy="3245.1" r="7.7"/><circle cx="992.4" cy="3251.4" r="7.7"/><circle cx="1013.1" cy="3248.9" r="7.7"/><circle cx="1073.8" cy="3253.0" r="7.7"/><circle cx="1094.0" cy="3249.6" r="7.7"/><circle cx="1053.5" cy="3263.1" r="7.7"/><circle cx="1013.1" cy="3267.6" r="7.7"/><circle cx="1033.3" cy="3266.5" r="7.7"/><circle cx="1073.8" cy="3267.6" r="7.7"/><circle cx="1043.4" cy="3293.0" r="7.7"/><circle cx="1013.1" cy="3311.0" r="7.7"/><circle cx="1033.3" cy="3312.1" r="7.7"/><circle cx="1053.5" cy="3312.6" r="7.7"/><circle cx="1073.8" cy="3316.4" r="7.7"/><circle cx="1033.3" cy="3326.1" r="7.7"/><circle cx="1053.5" cy="3330.1" r="7.7"/><circle cx="1043.4" cy="3348.0" r="7.7"/></g>
<line x1="400.00" y1="2726.25" x2="400.00" y2="3454.75" stroke="#000" stroke-width="7.5" />
<line x1="367.50" y1="3451.00" x2="1160.00" y2="3451.00" stroke="#000" stroke-width="7.5" />
<line x1="367.50" y1="3210.00" x2="400.00" y2="3210.00" stroke="#000" stroke-width="6.5" />
<line x1="367.50" y1="2968.50" x2="400.00" y2="2968.50" stroke="#000" stroke-width="6.5" />
<line x1="367.50" y1="2730.00" x2="400.00" y2="2730.00" stroke="#000" stroke-width="6.5" />
<text transform="translate(325.59,2748.47) scale(1.0653,1)" font-family="'Liberation Sans', sans-serif" font-weight="bold" font-size="53.10" fill="#000" xml:space="preserve" >3</text>
<text transform="translate(325.29,2988.60) scale(1.0753,1)" font-family="'Liberation Sans', sans-serif" font-weight="bold" font-size="53.14" fill="#000" xml:space="preserve" >2</text>
<text transform="translate(328.12,3228.70) scale(0.6572,1)" font-family="'Liberation Sans', sans-serif" font-weight="bold" font-size="55.36" fill="#000" xml:space="preserve" >1</text>
<text transform="translate(324.64,3470.47) scale(1.1101,1)" font-family="'Liberation Sans', sans-serif" font-weight="bold" font-size="53.10" fill="#000" xml:space="preserve" >0</text>
<text transform="translate(212.99,3305.53) rotate(-90) scale(0.9105,1)" font-family="'Liberation Sans', sans-serif" font-weight="bold" font-size="63.85" fill="#000" xml:space="preserve" >Cytosolic TFEB</text>
<text transform="translate(289.41,3338.16) rotate(-90) scale(0.8850,1)" font-family="'Liberation Sans', sans-serif" font-weight="bold" font-size="64.71" fill="#000" xml:space="preserve" >(relative to control)</text>
<line x1="691.00" y1="2592.50" x2="1045.00" y2="2592.50" stroke="#000" stroke-width="4" />
<text transform="translate(834.42,2555.35) scale(0.9599,1)" font-family="'Liberation Sans', sans-serif" font-weight="normal" font-size="65.45" fill="#000" xml:space="preserve" >ns</text>
<line x1="515.00" y1="2750.00" x2="677.50" y2="2750.00" stroke="#000" stroke-width="4" />
<text transform="translate(563.42,2712.85) scale(0.9599,1)" font-family="'Liberation Sans', sans-serif" font-weight="normal" font-size="65.45" fill="#000" xml:space="preserve" >ns</text>
<line x1="706.00" y1="2750.00" x2="870.00" y2="2750.00" stroke="#000" stroke-width="4" />
<text transform="translate(754.42,2712.85) scale(0.9599,1)" font-family="'Liberation Sans', sans-serif" font-weight="normal" font-size="65.45" fill="#000" xml:space="preserve" >ns</text>
<text transform="translate(505.58,3534.45) scale(1.1329,1)" font-family="'Liberation Sans', sans-serif" font-weight="bold" font-size="82.50" fill="#000" xml:space="preserve" stroke="#000" stroke-width="1.7" stroke-linejoin="round">-</text>
<text transform="translate(666.42,3540.27) scale(0.9984,1)" font-family="'Liberation Sans', sans-serif" font-weight="bold" font-size="85.88" fill="#000" xml:space="preserve" stroke="#000" stroke-width="1.7" stroke-linejoin="round">+</text>
<text transform="translate(848.08,3534.45) scale(1.1329,1)" font-family="'Liberation Sans', sans-serif" font-weight="bold" font-size="82.50" fill="#000" xml:space="preserve" stroke="#000" stroke-width="1.7" stroke-linejoin="round">-</text>
<text transform="translate(1019.92,3540.27) scale(0.9984,1)" font-family="'Liberation Sans', sans-serif" font-weight="bold" font-size="85.88" fill="#000" xml:space="preserve" stroke="#000" stroke-width="1.7" stroke-linejoin="round">+</text>
<text transform="translate(505.58,3695.45) scale(1.1329,1)" font-family="'Liberation Sans', sans-serif" font-weight="bold" font-size="82.50" fill="#000" xml:space="preserve" stroke="#000" stroke-width="1.7" stroke-linejoin="round">-</text>
<text transform="translate(675.58,3695.45) scale(1.1329,1)" font-family="'Liberation Sans', sans-serif" font-weight="bold" font-size="82.50" fill="#000" xml:space="preserve" stroke="#000" stroke-width="1.7" stroke-linejoin="round">-</text>
<text transform="translate(846.42,3699.77) scale(0.9984,1)" font-family="'Liberation Sans', sans-serif" font-weight="bold" font-size="85.88" fill="#000" xml:space="preserve" stroke="#000" stroke-width="1.7" stroke-linejoin="round">+</text>
<text transform="translate(1019.92,3699.77) scale(0.9984,1)" font-family="'Liberation Sans', sans-serif" font-weight="bold" font-size="85.88" fill="#000" xml:space="preserve" stroke="#000" stroke-width="1.7" stroke-linejoin="round">+</text></g>
<g id="chart-DR"><rect x="1479.00" y="3210.00" width="112.50" height="243.00" fill="#fff" stroke="#000" stroke-width="3.6"/>
<rect x="1652.30" y="3208.00" width="112.50" height="245.00" fill="#fff" stroke="#000" stroke-width="3.6"/>
<rect x="1825.80" y="3176.00" width="112.20" height="277.00" fill="#fff" stroke="#000" stroke-width="3.6"/>
<rect x="1999.00" y="3215.00" width="111.50" height="238.00" fill="#fff" stroke="#000" stroke-width="3.6"/>
<line x1="1424.00" y1="3208.00" x2="2164.50" y2="3208.00" stroke="#000" stroke-width="3" stroke-dasharray="11.5 5.2"/>
<line x1="1535.00" y1="3141.50" x2="1535.00" y2="3277.50" stroke="#000" stroke-width="3.2" />
<line x1="1505.50" y1="3141.50" x2="1564.50" y2="3141.50" stroke="#000" stroke-width="3.2" />
<line x1="1505.50" y1="3277.50" x2="1564.50" y2="3277.50" stroke="#000" stroke-width="3.2" />
<line x1="1709.00" y1="3126.00" x2="1709.00" y2="3290.00" stroke="#000" stroke-width="3.2" />
<line x1="1679.50" y1="3126.00" x2="1738.50" y2="3126.00" stroke="#000" stroke-width="3.2" />
<line x1="1679.50" y1="3290.00" x2="1738.50" y2="3290.00" stroke="#000" stroke-width="3.2" />
<line x1="1881.30" y1="3105.00" x2="1881.30" y2="3247.00" stroke="#000" stroke-width="3.2" />
<line x1="1851.80" y1="3105.00" x2="1910.80" y2="3105.00" stroke="#000" stroke-width="3.2" />
<line x1="1851.80" y1="3247.00" x2="1910.80" y2="3247.00" stroke="#000" stroke-width="3.2" />
<line x1="2055.50" y1="3146.50" x2="2055.50" y2="3281.50" stroke="#000" stroke-width="3.2" />
<line x1="2026.00" y1="3146.50" x2="2085.00" y2="3146.50" stroke="#000" stroke-width="3.2" />
<line x1="2026.00" y1="3281.50" x2="2085.00" y2="3281.50" stroke="#000" stroke-width="3.2" />
<g fill="#fff" stroke="#000" stroke-width="1.5"><circle cx="1534.4" cy="3090.2" r="7.7"/><circle cx="1504.9" cy="3108.6" r="7.7"/><circle cx="1544.9" cy="3112.7" r="7.7"/><circle cx="1524.7" cy="3121.0" r="7.7"/><circle cx="1504.9" cy="3123.9" r="7.7"/><circle cx="1524.7" cy="3138.5" r="7.7"/><circle cx="1544.9" cy="3135.8" r="7.7"/><circle cx="1564.5" cy="3143.0" r="7.7"/><circle cx="1504.9" cy="3159.9" r="7.7"/><circle cx="1524.7" cy="3161.7" r="7.7"/><circle cx="1544.9" cy="3160.6" r="7.7"/><circle cx="1564.5" cy="3166.2" r="7.7"/><circle cx="1484.2" cy="3179.0" r="7.7"/><circle cx="1504.9" cy="3178.6" r="7.7"/><circle cx="1585.0" cy="3175.6" r="7.7"/><circle cx="1524.7" cy="3192.5" r="7.7"/><circle cx="1544.9" cy="3192.5" r="7.7"/><circle cx="1484.2" cy="3199.2" r="7.7"/><circle cx="1504.9" cy="3199.2" r="7.7"/><circle cx="1585.0" cy="3194.7" r="7.7"/><circle cx="1564.5" cy="3204.9" r="7.7"/><circle cx="1544.9" cy="3210.5" r="7.7"/><circle cx="1504.9" cy="3216.1" r="7.7"/><circle cx="1524.7" cy="3217.9" r="7.7"/><circle cx="1544.9" cy="3226.2" r="7.7"/><circle cx="1544.9" cy="3243.1" r="7.7"/><circle cx="1524.7" cy="3251.0" r="7.7"/><circle cx="1544.9" cy="3267.2" r="7.7"/><circle cx="1564.5" cy="3266.0" r="7.7"/><circle cx="1524.7" cy="3271.7" r="7.7"/><circle cx="1504.9" cy="3279.1" r="7.7"/><circle cx="1524.7" cy="3286.3" r="7.7"/><circle cx="1564.5" cy="3291.4" r="7.7"/><circle cx="1544.9" cy="3294.8" r="7.7"/><circle cx="1504.9" cy="3295.9" r="7.7"/><circle cx="1524.7" cy="3307.2" r="7.7"/><circle cx="1534.4" cy="3341.0" r="7.7"/><circle cx="1534.4" cy="3363.5" r="7.7"/></g>
<g fill="#0530e2" stroke="#000" stroke-width="1.5"><circle cx="1707.3" cy="3001.4" r="7.7"/><circle cx="1707.3" cy="3039.6" r="7.7"/><circle cx="1722.1" cy="3042.5" r="7.7"/><circle cx="1693.4" cy="3049.3" r="7.7"/><circle cx="1700.6" cy="3078.3" r="7.7"/><circle cx="1714.7" cy="3079.6" r="7.7"/><circle cx="1714.7" cy="3101.4" r="7.7"/><circle cx="1744.0" cy="3114.2" r="7.7"/><circle cx="1685.9" cy="3117.6" r="7.7"/><circle cx="1671.5" cy="3123.9" r="7.7"/><circle cx="1729.3" cy="3123.2" r="7.7"/><circle cx="1714.7" cy="3127.7" r="7.7"/><circle cx="1700.6" cy="3136.3" r="7.7"/><circle cx="1685.9" cy="3159.2" r="7.7"/><circle cx="1714.7" cy="3166.2" r="7.7"/><circle cx="1657.4" cy="3169.6" r="7.7"/><circle cx="1671.5" cy="3171.1" r="7.7"/><circle cx="1758.6" cy="3167.8" r="7.7"/><circle cx="1744.0" cy="3171.1" r="7.7"/><circle cx="1729.3" cy="3172.3" r="7.7"/><circle cx="1700.6" cy="3173.4" r="7.7"/><circle cx="1685.9" cy="3176.3" r="7.7"/><circle cx="1700.6" cy="3190.3" r="7.7"/><circle cx="1729.3" cy="3190.7" r="7.7"/><circle cx="1671.5" cy="3202.2" r="7.7"/><circle cx="1729.3" cy="3205.5" r="7.7"/><circle cx="1657.4" cy="3214.5" r="7.7"/><circle cx="1671.5" cy="3217.7" r="7.7"/><circle cx="1744.0" cy="3216.1" r="7.7"/><circle cx="1758.6" cy="3220.2" r="7.7"/><circle cx="1700.6" cy="3228.5" r="7.7"/><circle cx="1714.7" cy="3228.5" r="7.7"/><circle cx="1729.3" cy="3226.2" r="7.7"/><circle cx="1671.5" cy="3233.0" r="7.7"/><circle cx="1744.0" cy="3234.6" r="7.7"/><circle cx="1700.6" cy="3247.6" r="7.7"/><circle cx="1714.7" cy="3243.5" r="7.7"/><circle cx="1657.4" cy="3249.8" r="7.7"/><circle cx="1671.5" cy="3249.2" r="7.7"/><circle cx="1758.6" cy="3250.5" r="7.7"/><circle cx="1744.0" cy="3254.3" r="7.7"/><circle cx="1685.9" cy="3262.7" r="7.7"/><circle cx="1700.6" cy="3265.1" r="7.7"/><circle cx="1714.7" cy="3261.1" r="7.7"/><circle cx="1729.3" cy="3261.1" r="7.7"/><circle cx="1729.3" cy="3277.9" r="7.7"/><circle cx="1714.7" cy="3288.7" r="7.7"/><circle cx="1671.5" cy="3293.7" r="7.7"/><circle cx="1744.0" cy="3290.3" r="7.7"/><circle cx="1758.6" cy="3298.2" r="7.7"/><circle cx="1685.9" cy="3303.1" r="7.7"/><circle cx="1700.6" cy="3300.4" r="7.7"/><circle cx="1671.5" cy="3309.4" r="7.7"/><circle cx="1714.7" cy="3307.2" r="7.7"/><circle cx="1729.3" cy="3308.8" r="7.7"/><circle cx="1744.0" cy="3306.1" r="7.7"/><circle cx="1700.6" cy="3317.3" r="7.7"/><circle cx="1714.7" cy="3335.4" r="7.7"/><circle cx="1700.6" cy="3342.8" r="7.7"/></g>
<g fill="#ff2600" stroke="#000" stroke-width="1.5"><circle cx="1869.0" cy="2960.2" r="7.7"/><circle cx="1881.6" cy="2971.5" r="7.7"/><circle cx="1881.6" cy="3034.0" r="7.7"/><circle cx="1894.0" cy="3063.7" r="7.7"/><circle cx="1881.6" cy="3071.1" r="7.7"/><circle cx="1869.0" cy="3077.6" r="7.7"/><circle cx="1856.2" cy="3092.9" r="7.7"/><circle cx="1869.0" cy="3094.0" r="7.7"/><circle cx="1881.6" cy="3096.3" r="7.7"/><circle cx="1906.8" cy="3091.1" r="7.7"/><circle cx="1894.0" cy="3108.7" r="7.7"/><circle cx="1869.0" cy="3126.0" r="7.7"/><circle cx="1894.0" cy="3127.8" r="7.7"/><circle cx="1881.6" cy="3132.3" r="7.7"/><circle cx="1856.2" cy="3139.0" r="7.7"/><circle cx="1906.8" cy="3138.6" r="7.7"/><circle cx="1869.0" cy="3147.3" r="7.7"/><circle cx="1881.6" cy="3146.9" r="7.7"/><circle cx="1894.0" cy="3145.3" r="7.7"/><circle cx="1919.2" cy="3158.6" r="7.7"/><circle cx="1856.2" cy="3163.1" r="7.7"/><circle cx="1931.5" cy="3169.4" r="7.7"/><circle cx="1831.0" cy="3177.2" r="7.7"/><circle cx="1856.2" cy="3179.5" r="7.7"/><circle cx="1894.0" cy="3177.9" r="7.7"/><circle cx="1843.4" cy="3182.9" r="7.7"/><circle cx="1869.0" cy="3181.7" r="7.7"/><circle cx="1881.6" cy="3183.3" r="7.7"/><circle cx="1906.8" cy="3181.7" r="7.7"/><circle cx="1919.2" cy="3181.1" r="7.7"/><circle cx="1931.5" cy="3186.7" r="7.7"/><circle cx="1856.2" cy="3197.5" r="7.7"/><circle cx="1906.8" cy="3200.2" r="7.7"/><circle cx="1843.4" cy="3206.5" r="7.7"/><circle cx="1869.0" cy="3204.7" r="7.7"/><circle cx="1881.6" cy="3205.3" r="7.7"/><circle cx="1894.0" cy="3206.5" r="7.7"/><circle cx="1931.5" cy="3203.1" r="7.7"/><circle cx="1831.0" cy="3212.1" r="7.7"/><circle cx="1919.2" cy="3211.4" r="7.7"/><circle cx="1906.8" cy="3216.6" r="7.7"/><circle cx="1881.6" cy="3219.5" r="7.7"/><circle cx="1843.4" cy="3222.2" r="7.7"/><circle cx="1894.0" cy="3223.3" r="7.7"/><circle cx="1869.0" cy="3226.0" r="7.7"/><circle cx="1831.0" cy="3235.0" r="7.7"/><circle cx="1843.4" cy="3237.3" r="7.7"/><circle cx="1919.2" cy="3233.9" r="7.7"/><circle cx="1906.8" cy="3237.3" r="7.7"/><circle cx="1856.2" cy="3242.9" r="7.7"/><circle cx="1869.0" cy="3244.7" r="7.7"/><circle cx="1881.6" cy="3245.1" r="7.7"/><circle cx="1894.0" cy="3242.9" r="7.7"/><circle cx="1906.8" cy="3254.1" r="7.7"/><circle cx="1869.0" cy="3259.8" r="7.7"/><circle cx="1856.2" cy="3267.2" r="7.7"/><circle cx="1881.6" cy="3265.4" r="7.7"/><circle cx="1894.0" cy="3264.9" r="7.7"/><circle cx="1906.8" cy="3271.0" r="7.7"/></g>
<g fill="#120a08" stroke="#000" stroke-width="1.5"><circle cx="2054.8" cy="3023.7" r="7.7"/><circle cx="2054.8" cy="3050.2" r="7.7"/><circle cx="2064.9" cy="3104.2" r="7.7"/><circle cx="2044.7" cy="3110.9" r="7.7"/><circle cx="2024.9" cy="3139.5" r="7.7"/><circle cx="2044.7" cy="3143.5" r="7.7"/><circle cx="2064.9" cy="3148.5" r="7.7"/><circle cx="2004.6" cy="3155.9" r="7.7"/><circle cx="2104.7" cy="3157.0" r="7.7"/><circle cx="2044.7" cy="3164.2" r="7.7"/><circle cx="2064.9" cy="3169.4" r="7.7"/><circle cx="2004.6" cy="3170.5" r="7.7"/><circle cx="2104.7" cy="3172.7" r="7.7"/><circle cx="2024.9" cy="3176.1" r="7.7"/><circle cx="2044.7" cy="3184.4" r="7.7"/><circle cx="2084.5" cy="3185.1" r="7.7"/><circle cx="2024.9" cy="3191.2" r="7.7"/><circle cx="2064.9" cy="3193.4" r="7.7"/><circle cx="2044.7" cy="3202.4" r="7.7"/><circle cx="2084.5" cy="3208.7" r="7.7"/><circle cx="2004.6" cy="3224.5" r="7.7"/><circle cx="2024.9" cy="3223.3" r="7.7"/><circle cx="2044.7" cy="3223.3" r="7.7"/><circle cx="2064.9" cy="3220.0" r="7.7"/><circle cx="2104.7" cy="3219.5" r="7.7"/><circle cx="2084.5" cy="3233.0" r="7.7"/><circle cx="2024.9" cy="3237.9" r="7.7"/><circle cx="2104.7" cy="3237.3" r="7.7"/><circle cx="2044.7" cy="3244.7" r="7.7"/><circle cx="2064.9" cy="3243.6" r="7.7"/><circle cx="2004.6" cy="3249.2" r="7.7"/><circle cx="2084.5" cy="3253.0" r="7.7"/><circle cx="2104.7" cy="3256.6" r="7.7"/><circle cx="2024.9" cy="3261.6" r="7.7"/><circle cx="2044.7" cy="3260.4" r="7.7"/><circle cx="2064.9" cy="3261.6" r="7.7"/><circle cx="2004.6" cy="3264.9" r="7.7"/><circle cx="2084.5" cy="3269.9" r="7.7"/><circle cx="2064.9" cy="3277.3" r="7.7"/><circle cx="2044.7" cy="3285.0" r="7.7"/><circle cx="2084.5" cy="3288.4" r="7.7"/><circle cx="2024.9" cy="3298.9" r="7.7"/><circle cx="2044.7" cy="3305.2" r="7.7"/><circle cx="2064.9" cy="3304.6" r="7.7"/><circle cx="2084.5" cy="3309.5" r="7.7"/><circle cx="2054.8" cy="3357.4" r="7.7"/></g>
<line x1="1419.70" y1="2717.25" x2="1419.70" y2="3456.75" stroke="#000" stroke-width="7.5" />
<line x1="1389.00" y1="3453.00" x2="2170.50" y2="3453.00" stroke="#000" stroke-width="7.5" />
<line x1="1389.00" y1="3208.00" x2="1419.70" y2="3208.00" stroke="#000" stroke-width="6.5" />
<line x1="1389.00" y1="2964.00" x2="1419.70" y2="2964.00" stroke="#000" stroke-width="6.5" />
<line x1="1389.00" y1="2721.00" x2="1419.70" y2="2721.00" stroke="#000" stroke-width="6.5" />
<text transform="translate(1344.99,2740.34) scale(1.0131,1)" font-family="'Liberation Sans', sans-serif" font-weight="bold" font-size="55.63" fill="#000" xml:space="preserve" >3</text>
<text transform="translate(1344.69,2983.80) scale(1.0657,1)" font-family="'Liberation Sans', sans-serif" font-weight="bold" font-size="53.43" fill="#000" xml:space="preserve" >2</text>
<text transform="translate(1347.27,3226.70) scale(0.6851,1)" font-family="'Liberation Sans', sans-serif" font-weight="bold" font-size="54.35" fill="#000" xml:space="preserve" >1</text>
<text transform="translate(1344.05,3471.46) scale(1.0832,1)" font-family="'Liberation Sans', sans-serif" font-weight="bold" font-size="54.23" fill="#000" xml:space="preserve" >0</text>
<text transform="translate(1236.56,3282.57) rotate(-90) scale(0.9295,1)" font-family="'Liberation Sans', sans-serif" font-weight="bold" font-size="64.08" fill="#000" xml:space="preserve" >Nuclear TFEB</text>
<text transform="translate(1310.54,3345.70) rotate(-90) scale(0.9255,1)" font-family="'Liberation Sans', sans-serif" font-weight="bold" font-size="62.67" fill="#000" xml:space="preserve" >(relative to control)</text>
<line x1="1707.30" y1="2715.00" x2="2056.50" y2="2715.00" stroke="#000" stroke-width="4" />
<text transform="translate(1847.92,2676.35) scale(0.9599,1)" font-family="'Liberation Sans', sans-serif" font-weight="normal" font-size="65.45" fill="#000" xml:space="preserve" >ns</text>
<line x1="1534.00" y1="2874.00" x2="1694.00" y2="2874.00" stroke="#000" stroke-width="4" />
<text transform="translate(1579.92,2833.85) scale(0.9599,1)" font-family="'Liberation Sans', sans-serif" font-weight="normal" font-size="65.45" fill="#000" xml:space="preserve" >ns</text>
<line x1="1721.50" y1="2874.00" x2="1882.50" y2="2874.00" stroke="#000" stroke-width="4" />
<text transform="translate(1789.19,2864.70) scale(0.9413,1)" font-family="'DejaVu Sans', 'Liberation Sans', sans-serif" font-weight="bold" font-size="58.92" fill="#000" xml:space="preserve" stroke="#000" stroke-width="1.8" stroke-linejoin="round">*</text>
<text transform="translate(1527.08,3551.45) scale(1.1329,1)" font-family="'Liberation Sans', sans-serif" font-weight="bold" font-size="82.50" fill="#000" xml:space="preserve" stroke="#000" stroke-width="1.7" stroke-linejoin="round">-</text>
<text transform="translate(1684.92,3556.77) scale(0.9984,1)" font-family="'Liberation Sans', sans-serif" font-weight="bold" font-size="85.88" fill="#000" xml:space="preserve" stroke="#000" stroke-width="1.7" stroke-linejoin="round">+</text>
<text transform="translate(1877.08,3551.45) scale(1.1329,1)" font-family="'Liberation Sans', sans-serif" font-weight="bold" font-size="82.50" fill="#000" xml:space="preserve" stroke="#000" stroke-width="1.7" stroke-linejoin="round">-</text>
<text transform="translate(2046.92,3556.77) scale(0.9984,1)" font-family="'Liberation Sans', sans-serif" font-weight="bold" font-size="85.88" fill="#000" xml:space="preserve" stroke="#000" stroke-width="1.7" stroke-linejoin="round">+</text>
<text transform="translate(1527.08,3700.45) scale(1.1329,1)" font-family="'Liberation Sans', sans-serif" font-weight="bold" font-size="82.50" fill="#000" xml:space="preserve" stroke="#000" stroke-width="1.7" stroke-linejoin="round">-</text>
<text transform="translate(1707.08,3700.45) scale(1.1329,1)" font-family="'Liberation Sans', sans-serif" font-weight="bold" font-size="82.50" fill="#000" xml:space="preserve" stroke="#000" stroke-width="1.7" stroke-linejoin="round">-</text>
<text transform="translate(1866.42,3705.27) scale(0.9984,1)" font-family="'Liberation Sans', sans-serif" font-weight="bold" font-size="85.88" fill="#000" xml:space="preserve" stroke="#000" stroke-width="1.7" stroke-linejoin="round">+</text>
<text transform="translate(2046.92,3705.27) scale(0.9984,1)" font-family="'Liberation Sans', sans-serif" font-weight="bold" font-size="85.88" fill="#000" xml:space="preserve" stroke="#000" stroke-width="1.7" stroke-linejoin="round">+</text></g>
<text transform="translate(52.40,123.70) scale(1.0043,1)" font-family="'Liberation Sans', sans-serif" font-weight="bold" font-size="99.57" fill="#000" xml:space="preserve" >A</text>
<text transform="translate(1126.91,102.30) scale(0.9434,1)" font-family="'Liberation Sans', sans-serif" font-weight="bold" font-size="99.28" fill="#000" xml:space="preserve" >B</text>
<text transform="translate(54.76,1233.59) scale(0.9036,1)" font-family="'Liberation Sans', sans-serif" font-weight="bold" font-size="100.70" fill="#000" xml:space="preserve" >C</text>
<text transform="translate(53.65,2615.90) scale(0.9617,1)" font-family="'Liberation Sans', sans-serif" font-weight="bold" font-size="98.41" fill="#000" xml:space="preserve" >D</text>
<text transform="translate(1054.34,1215.38) scale(1.0088,1)" font-family="'Liberation Sans', sans-serif" font-weight="bold" font-size="74.04" fill="#000" xml:space="preserve" >Microglia</text>
<text transform="translate(1038.30,2490.72) scale(0.9587,1)" font-family="'Liberation Sans', sans-serif" font-weight="bold" font-size="78.23" fill="#000" xml:space="preserve" >Glioblastoma</text>
<text transform="translate(132.35,2161.85) scale(1.0192,1)" font-family="'Liberation Sans', sans-serif" font-weight="bold" font-size="50.70" fill="#000" xml:space="preserve" >Spike</text>
<text transform="translate(131.14,2237.03) scale(0.9829,1)" font-family="'DejaVu Sans', 'Liberation Sans', sans-serif" font-weight="normal" font-size="54.64" fill="#000" xml:space="preserve" >(5 µM)</text>
<text transform="translate(132.25,2320.07) scale(0.9981,1)" font-family="'Liberation Sans', sans-serif" font-weight="bold" font-size="53.20" fill="#000" xml:space="preserve" >Fisetin</text>
<text transform="translate(131.13,2395.33) scale(0.9843,1)" font-family="'DejaVu Sans', 'Liberation Sans', sans-serif" font-weight="normal" font-size="54.64" fill="#000" xml:space="preserve" >(25 µM)</text>
<text transform="translate(132.35,3505.65) scale(1.0192,1)" font-family="'Liberation Sans', sans-serif" font-weight="bold" font-size="50.70" fill="#000" xml:space="preserve" >Spike</text>
<text transform="translate(131.14,3583.03) scale(0.9829,1)" font-family="'DejaVu Sans', 'Liberation Sans', sans-serif" font-weight="normal" font-size="54.64" fill="#000" xml:space="preserve" >(5 µM)</text>
<text transform="translate(132.25,3667.97) scale(0.9981,1)" font-family="'Liberation Sans', sans-serif" font-weight="bold" font-size="53.20" fill="#000" xml:space="preserve" >Fisetin</text>
<text transform="translate(131.13,3744.03) scale(0.9843,1)" font-family="'DejaVu Sans', 'Liberation Sans', sans-serif" font-weight="normal" font-size="54.64" fill="#000" xml:space="preserve" >(25 µM)</text>
</svg>
</body></html>
